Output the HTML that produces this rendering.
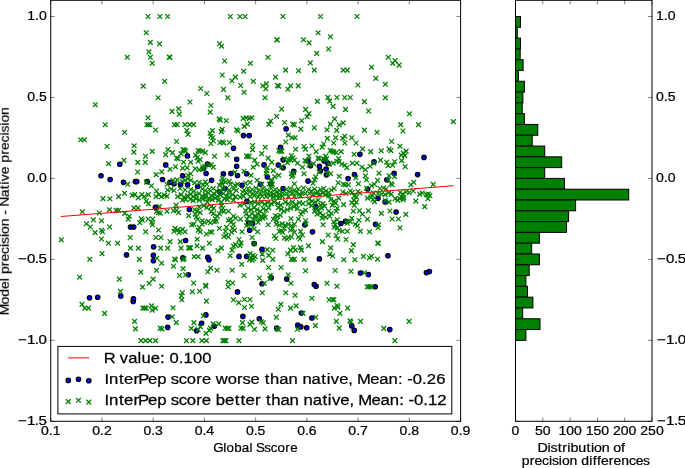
<!DOCTYPE html>
<html lang="en"><head><meta charset="utf-8"><title>Precision difference vs Global Sscore</title>
<style>html,body{margin:0;padding:0;background:#fff;}body{width:685px;height:468px;overflow:hidden;font-family:"Liberation Sans",sans-serif;}svg{display:block;}</style>
</head><body>
<svg width="685" height="468" viewBox="0 0 685 468" font-family="'Liberation Sans', sans-serif" fill="#000">
<rect x="0" y="0" width="685" height="468" fill="#fff"/>
<defs><filter id="gs" x="0" y="0" width="685" height="468" filterUnits="userSpaceOnUse" color-interpolation-filters="sRGB"><feColorMatrix type="saturate" values="0"/></filter></defs>
<g id="blue" fill="#0000ff" stroke="#000" stroke-width="1.25">
<circle cx="205.9" cy="314.9" r="2.2"/><circle cx="301.4" cy="313.1" r="2.2"/><circle cx="311.9" cy="318.0" r="2.2"/><circle cx="201.6" cy="323.2" r="2.2"/><circle cx="297.8" cy="325.1" r="2.2"/><circle cx="207.8" cy="257.4" r="2.2"/><circle cx="207.5" cy="164.0" r="2.2"/><circle cx="214.3" cy="326.3" r="2.2"/><circle cx="264.0" cy="164.9" r="2.2"/><circle cx="300.8" cy="326.9" r="2.2"/><circle cx="278.3" cy="165.0" r="2.2"/><circle cx="306.7" cy="327.7" r="2.2"/><circle cx="209.0" cy="259.7" r="2.2"/><circle cx="126.5" cy="254.9" r="2.2"/><circle cx="327.9" cy="163.4" r="2.2"/><circle cx="189.4" cy="209.5" r="2.2"/><circle cx="396.1" cy="212.0" r="2.2"/><circle cx="119.8" cy="164.2" r="2.2"/><circle cx="283.1" cy="159.8" r="2.2"/><circle cx="276.8" cy="328.1" r="2.2"/><circle cx="389.8" cy="329.6" r="2.2"/><circle cx="283.1" cy="167.7" r="2.2"/><circle cx="133.2" cy="301.4" r="2.2"/><circle cx="203.6" cy="168.2" r="2.2"/><circle cx="196.6" cy="330.7" r="2.2"/><circle cx="326.1" cy="169.0" r="2.2"/><circle cx="133.5" cy="298.8" r="2.2"/><circle cx="424.0" cy="157.4" r="2.2"/><circle cx="324.1" cy="160.9" r="2.2"/><circle cx="89.5" cy="297.7" r="2.2"/><circle cx="97.7" cy="297.3" r="2.2"/><circle cx="187.4" cy="155.9" r="2.2"/><circle cx="153.4" cy="255.4" r="2.2"/><circle cx="153.4" cy="260.7" r="2.2"/><circle cx="262.0" cy="249.4" r="2.2"/><circle cx="120.8" cy="296.1" r="2.2"/><circle cx="359.9" cy="154.3" r="2.2"/><circle cx="168.0" cy="317.1" r="2.2"/><circle cx="182.8" cy="257.9" r="2.2"/><circle cx="394.1" cy="173.2" r="2.2"/><circle cx="167.7" cy="327.4" r="2.2"/><circle cx="155.4" cy="207.4" r="2.2"/><circle cx="206.1" cy="173.5" r="2.2"/><circle cx="320.4" cy="170.9" r="2.2"/><circle cx="293.7" cy="171.4" r="2.2"/><circle cx="223.4" cy="173.7" r="2.2"/><circle cx="153.6" cy="246.8" r="2.2"/><circle cx="345.6" cy="221.2" r="2.2"/><circle cx="354.5" cy="174.6" r="2.2"/><circle cx="417.6" cy="174.6" r="2.2"/><circle cx="319.4" cy="166.4" r="2.2"/><circle cx="319.4" cy="258.9" r="2.2"/><circle cx="326.4" cy="174.8" r="2.2"/><circle cx="242.9" cy="316.4" r="2.2"/><circle cx="387.9" cy="255.7" r="2.2"/><circle cx="182.6" cy="175.8" r="2.2"/><circle cx="237.5" cy="291.9" r="2.2"/><circle cx="248.6" cy="222.8" r="2.2"/><circle cx="252.6" cy="223.5" r="2.2"/><circle cx="340.9" cy="223.5" r="2.2"/><circle cx="286.1" cy="128.9" r="2.2"/><circle cx="267.4" cy="177.0" r="2.2"/><circle cx="254.1" cy="243.6" r="2.2"/><circle cx="429.4" cy="271.6" r="2.2"/><circle cx="385.1" cy="201.9" r="2.2"/><circle cx="246.9" cy="201.4" r="2.2"/><circle cx="315.9" cy="206.9" r="2.2"/><circle cx="246.6" cy="173.7" r="2.2"/><circle cx="246.6" cy="256.4" r="2.2"/><circle cx="426.4" cy="272.6" r="2.2"/><circle cx="348.1" cy="178.6" r="2.2"/><circle cx="360.4" cy="273.0" r="2.2"/><circle cx="110.1" cy="179.6" r="2.2"/><circle cx="280.5" cy="147.3" r="2.2"/><circle cx="386.8" cy="179.8" r="2.2"/><circle cx="230.9" cy="173.5" r="2.2"/><circle cx="130.5" cy="227.0" r="2.2"/><circle cx="133.7" cy="227.0" r="2.2"/><circle cx="211.6" cy="180.3" r="2.2"/><circle cx="162.5" cy="179.5" r="2.2"/><circle cx="185.6" cy="240.5" r="2.2"/><circle cx="368.4" cy="274.6" r="2.2"/><circle cx="351.8" cy="325.9" r="2.2"/><circle cx="188.3" cy="274.8" r="2.2"/><circle cx="375.2" cy="286.8" r="2.2"/><circle cx="135.3" cy="181.6" r="2.2"/><circle cx="136.8" cy="181.6" r="2.2"/><circle cx="147.3" cy="181.6" r="2.2"/><circle cx="316.1" cy="286.3" r="2.2"/><circle cx="219.7" cy="192.0" r="2.2"/><circle cx="123.5" cy="182.3" r="2.2"/><circle cx="233.5" cy="148.3" r="2.2"/><circle cx="354.2" cy="330.4" r="2.2"/><circle cx="249.6" cy="230.3" r="2.2"/><circle cx="310.5" cy="165.7" r="2.2"/><circle cx="314.3" cy="284.5" r="2.2"/><circle cx="243.5" cy="135.6" r="2.2"/><circle cx="249.2" cy="135.6" r="2.2"/><circle cx="165.7" cy="164.9" r="2.2"/><circle cx="174.0" cy="183.8" r="2.2"/><circle cx="270.7" cy="183.8" r="2.2"/><circle cx="271.2" cy="277.8" r="2.2"/><circle cx="262.0" cy="283.8" r="2.2"/><circle cx="260.4" cy="184.3" r="2.2"/><circle cx="180.6" cy="184.5" r="2.2"/><circle cx="259.3" cy="318.8" r="2.2"/><circle cx="304.8" cy="224.8" r="2.2"/><circle cx="187.6" cy="184.8" r="2.2"/><circle cx="312.5" cy="231.8" r="2.2"/><circle cx="374.0" cy="161.9" r="2.2"/><circle cx="367.7" cy="189.0" r="2.2"/><circle cx="378.0" cy="198.3" r="2.2"/><circle cx="286.7" cy="279.1" r="2.2"/><circle cx="242.0" cy="185.3" r="2.2"/><circle cx="225.1" cy="188.5" r="2.2"/><circle cx="283.1" cy="188.5" r="2.2"/><circle cx="236.7" cy="159.3" r="2.2"/><circle cx="236.7" cy="166.2" r="2.2"/><circle cx="308.0" cy="160.9" r="2.2"/><circle cx="308.0" cy="181.1" r="2.2"/><circle cx="101.0" cy="175.7" r="2.2"/><circle cx="170.0" cy="182.3" r="2.2"/><circle cx="239.0" cy="256.4" r="2.2"/><circle cx="237.5" cy="175.5" r="2.2"/><circle cx="375.5" cy="224.3" r="2.2"/><circle cx="197.7" cy="186.5" r="2.2"/>
</g>
<g id="green" stroke="#008000" stroke-width="1.25" fill="none">
<path d="M92.95 102.35l4.7 4.7m-4.7 0l4.7 -4.7"/><path d="M208.55 103.15l4.7 4.7m-4.7 0l4.7 -4.7"/><path d="M201.05 313.45l4.7 4.7m-4.7 0l4.7 -4.7"/><path d="M102.25 311.05l4.7 4.7m-4.7 0l4.7 -4.7"/><path d="M300.55 311.05l4.7 4.7m-4.7 0l4.7 -4.7"/><path d="M315.75 30.45l4.7 4.7m-4.7 0l4.7 -4.7"/><path d="M313.35 314.95l4.7 4.7m-4.7 0l4.7 -4.7"/><path d="M187.65 99.65l4.7 4.7m-4.7 0l4.7 -4.7"/><path d="M314.95 99.05l4.7 4.7m-4.7 0l4.7 -4.7"/><path d="M303.25 107.05l4.7 4.7m-4.7 0l4.7 -4.7"/><path d="M301.15 37.45l4.7 4.7m-4.7 0l4.7 -4.7"/><path d="M327.35 98.75l4.7 4.7m-4.7 0l4.7 -4.7"/><path d="M406.75 319.05l4.7 4.7m-4.7 0l4.7 -4.7"/><path d="M328.05 34.45l4.7 4.7m-4.7 0l4.7 -4.7"/><path d="M82.55 305.75l4.7 4.7m-4.7 0l4.7 -4.7"/><path d="M86.25 305.75l4.7 4.7m-4.7 0l4.7 -4.7"/><path d="M288.25 305.75l4.7 4.7m-4.7 0l4.7 -4.7"/><path d="M207.75 109.75l4.7 4.7m-4.7 0l4.7 -4.7"/><path d="M225.35 95.35l4.7 4.7m-4.7 0l4.7 -4.7"/><path d="M191.55 320.25l4.7 4.7m-4.7 0l4.7 -4.7"/><path d="M325.55 95.05l4.7 4.7m-4.7 0l4.7 -4.7"/><path d="M306.75 40.55l4.7 4.7m-4.7 0l4.7 -4.7"/><path d="M306.55 111.25l4.7 4.7m-4.7 0l4.7 -4.7"/><path d="M382.95 95.35l4.7 4.7m-4.7 0l4.7 -4.7"/><path d="M407.05 111.45l4.7 4.7m-4.7 0l4.7 -4.7"/><path d="M217.15 41.45l4.7 4.7m-4.7 0l4.7 -4.7"/><path d="M210.75 321.55l4.7 4.7m-4.7 0l4.7 -4.7"/><path d="M216.35 321.55l4.7 4.7m-4.7 0l4.7 -4.7"/><path d="M176.95 111.75l4.7 4.7m-4.7 0l4.7 -4.7"/><path d="M330.75 104.05l4.7 4.7m-4.7 0l4.7 -4.7"/><path d="M293.75 303.55l4.7 4.7m-4.7 0l4.7 -4.7"/><path d="M176.35 106.45l4.7 4.7m-4.7 0l4.7 -4.7"/><path d="M279.25 106.85l4.7 4.7m-4.7 0l4.7 -4.7"/><path d="M331.85 305.75l4.7 4.7m-4.7 0l4.7 -4.7"/><path d="M313.05 323.25l4.7 4.7m-4.7 0l4.7 -4.7"/><path d="M79.65 302.05l4.7 4.7m-4.7 0l4.7 -4.7"/><path d="M278.45 302.05l4.7 4.7m-4.7 0l4.7 -4.7"/><path d="M330.85 160.85l4.7 4.7m-4.7 0l4.7 -4.7"/><path d="M349.95 160.85l4.7 4.7m-4.7 0l4.7 -4.7"/><path d="M263.85 207.85l4.7 4.7m-4.7 0l4.7 -4.7"/><path d="M219.25 43.85l4.7 4.7m-4.7 0l4.7 -4.7"/><path d="M339.45 161.85l4.7 4.7m-4.7 0l4.7 -4.7"/><path d="M194.85 208.85l4.7 4.7m-4.7 0l4.7 -4.7"/><path d="M281.45 208.85l4.7 4.7m-4.7 0l4.7 -4.7"/><path d="M333.85 208.85l4.7 4.7m-4.7 0l4.7 -4.7"/><path d="M192.35 207.35l4.7 4.7m-4.7 0l4.7 -4.7"/><path d="M350.95 208.85l4.7 4.7m-4.7 0l4.7 -4.7"/><path d="M191.85 254.35l4.7 4.7m-4.7 0l4.7 -4.7"/><path d="M195.85 254.35l4.7 4.7m-4.7 0l4.7 -4.7"/><path d="M204.45 91.15l4.7 4.7m-4.7 0l4.7 -4.7"/><path d="M304.75 114.25l4.7 4.7m-4.7 0l4.7 -4.7"/><path d="M198.05 324.25l4.7 4.7m-4.7 0l4.7 -4.7"/><path d="M135.45 160.05l4.7 4.7m-4.7 0l4.7 -4.7"/><path d="M142.95 160.05l4.7 4.7m-4.7 0l4.7 -4.7"/><path d="M208.95 162.35l4.7 4.7m-4.7 0l4.7 -4.7"/><path d="M208.95 209.35l4.7 4.7m-4.7 0l4.7 -4.7"/><path d="M173.95 320.25l4.7 4.7m-4.7 0l4.7 -4.7"/><path d="M326.85 161.95l4.7 4.7m-4.7 0l4.7 -4.7"/><path d="M257.85 208.85l4.7 4.7m-4.7 0l4.7 -4.7"/><path d="M269.35 159.85l4.7 4.7m-4.7 0l4.7 -4.7"/><path d="M278.95 206.85l4.7 4.7m-4.7 0l4.7 -4.7"/><path d="M206.45 162.55l4.7 4.7m-4.7 0l4.7 -4.7"/><path d="M330.35 253.65l4.7 4.7m-4.7 0l4.7 -4.7"/><path d="M342.45 162.85l4.7 4.7m-4.7 0l4.7 -4.7"/><path d="M188.35 159.85l4.7 4.7m-4.7 0l4.7 -4.7"/><path d="M336.85 159.35l4.7 4.7m-4.7 0l4.7 -4.7"/><path d="M260.85 206.35l4.7 4.7m-4.7 0l4.7 -4.7"/><path d="M326.35 208.85l4.7 4.7m-4.7 0l4.7 -4.7"/><path d="M136.95 257.05l4.7 4.7m-4.7 0l4.7 -4.7"/><path d="M270.45 257.05l4.7 4.7m-4.7 0l4.7 -4.7"/><path d="M92.75 230.25l4.7 4.7m-4.7 0l4.7 -4.7"/><path d="M334.05 319.05l4.7 4.7m-4.7 0l4.7 -4.7"/><path d="M266.35 253.05l4.7 4.7m-4.7 0l4.7 -4.7"/><path d="M341.45 257.35l4.7 4.7m-4.7 0l4.7 -4.7"/><path d="M197.85 210.35l4.7 4.7m-4.7 0l4.7 -4.7"/><path d="M275.95 306.95l4.7 4.7m-4.7 0l4.7 -4.7"/><path d="M195.85 158.85l4.7 4.7m-4.7 0l4.7 -4.7"/><path d="M334.35 158.85l4.7 4.7m-4.7 0l4.7 -4.7"/><path d="M211.45 205.85l4.7 4.7m-4.7 0l4.7 -4.7"/><path d="M334.85 205.85l4.7 4.7m-4.7 0l4.7 -4.7"/><path d="M352.45 257.35l4.7 4.7m-4.7 0l4.7 -4.7"/><path d="M334.55 95.15l4.7 4.7m-4.7 0l4.7 -4.7"/><path d="M222.85 325.75l4.7 4.7m-4.7 0l4.7 -4.7"/><path d="M131.65 205.55l4.7 4.7m-4.7 0l4.7 -4.7"/><path d="M135.65 205.55l4.7 4.7m-4.7 0l4.7 -4.7"/><path d="M202.45 163.85l4.7 4.7m-4.7 0l4.7 -4.7"/><path d="M328.85 210.85l4.7 4.7m-4.7 0l4.7 -4.7"/><path d="M334.85 303.25l4.7 4.7m-4.7 0l4.7 -4.7"/><path d="M399.35 158.25l4.7 4.7m-4.7 0l4.7 -4.7"/><path d="M204.45 205.25l4.7 4.7m-4.7 0l4.7 -4.7"/><path d="M266.35 205.25l4.7 4.7m-4.7 0l4.7 -4.7"/><path d="M275.95 205.25l4.7 4.7m-4.7 0l4.7 -4.7"/><path d="M260.35 258.05l4.7 4.7m-4.7 0l4.7 -4.7"/><path d="M122.35 211.05l4.7 4.7m-4.7 0l4.7 -4.7"/><path d="M188.95 326.05l4.7 4.7m-4.7 0l4.7 -4.7"/><path d="M208.25 326.05l4.7 4.7m-4.7 0l4.7 -4.7"/><path d="M225.05 326.05l4.7 4.7m-4.7 0l4.7 -4.7"/><path d="M226.55 326.05l4.7 4.7m-4.7 0l4.7 -4.7"/><path d="M381.45 326.05l4.7 4.7m-4.7 0l4.7 -4.7"/><path d="M121.65 158.05l4.7 4.7m-4.7 0l4.7 -4.7"/><path d="M402.85 164.35l4.7 4.7m-4.7 0l4.7 -4.7"/><path d="M210.95 211.35l4.7 4.7m-4.7 0l4.7 -4.7"/><path d="M274.85 37.65l4.7 4.7m-4.7 0l4.7 -4.7"/><path d="M196.85 204.75l4.7 4.7m-4.7 0l4.7 -4.7"/><path d="M259.85 251.75l4.7 4.7m-4.7 0l4.7 -4.7"/><path d="M327.35 251.75l4.7 4.7m-4.7 0l4.7 -4.7"/><path d="M216.85 116.55l4.7 4.7m-4.7 0l4.7 -4.7"/><path d="M332.25 116.55l4.7 4.7m-4.7 0l4.7 -4.7"/><path d="M279.45 164.55l4.7 4.7m-4.7 0l4.7 -4.7"/><path d="M204.05 298.75l4.7 4.7m-4.7 0l4.7 -4.7"/><path d="M335.55 304.75l4.7 4.7m-4.7 0l4.7 -4.7"/><path d="M274.75 326.55l4.7 4.7m-4.7 0l4.7 -4.7"/><path d="M326.25 46.65l4.7 4.7m-4.7 0l4.7 -4.7"/><path d="M274.55 37.45l4.7 4.7m-4.7 0l4.7 -4.7"/><path d="M200.35 164.85l4.7 4.7m-4.7 0l4.7 -4.7"/><path d="M210.95 164.85l4.7 4.7m-4.7 0l4.7 -4.7"/><path d="M192.85 211.85l4.7 4.7m-4.7 0l4.7 -4.7"/><path d="M255.75 211.85l4.7 4.7m-4.7 0l4.7 -4.7"/><path d="M87.45 256.95l4.7 4.7m-4.7 0l4.7 -4.7"/><path d="M295.05 326.95l4.7 4.7m-4.7 0l4.7 -4.7"/><path d="M197.85 157.25l4.7 4.7m-4.7 0l4.7 -4.7"/><path d="M285.05 160.35l4.7 4.7m-4.7 0l4.7 -4.7"/><path d="M208.95 204.25l4.7 4.7m-4.7 0l4.7 -4.7"/><path d="M285.05 207.35l4.7 4.7m-4.7 0l4.7 -4.7"/><path d="M422.35 204.25l4.7 4.7m-4.7 0l4.7 -4.7"/><path d="M403.55 212.05l4.7 4.7m-4.7 0l4.7 -4.7"/><path d="M274.25 113.95l4.7 4.7m-4.7 0l4.7 -4.7"/><path d="M195.75 327.25l4.7 4.7m-4.7 0l4.7 -4.7"/><path d="M276.25 327.25l4.7 4.7m-4.7 0l4.7 -4.7"/><path d="M273.95 314.95l4.7 4.7m-4.7 0l4.7 -4.7"/><path d="M264.85 165.35l4.7 4.7m-4.7 0l4.7 -4.7"/><path d="M344.45 165.35l4.7 4.7m-4.7 0l4.7 -4.7"/><path d="M261.85 212.35l4.7 4.7m-4.7 0l4.7 -4.7"/><path d="M254.75 161.85l4.7 4.7m-4.7 0l4.7 -4.7"/><path d="M354.55 160.85l4.7 4.7m-4.7 0l4.7 -4.7"/><path d="M254.75 207.35l4.7 4.7m-4.7 0l4.7 -4.7"/><path d="M285.55 251.55l4.7 4.7m-4.7 0l4.7 -4.7"/><path d="M170.65 305.45l4.7 4.7m-4.7 0l4.7 -4.7"/><path d="M217.85 117.75l4.7 4.7m-4.7 0l4.7 -4.7"/><path d="M336.85 325.75l4.7 4.7m-4.7 0l4.7 -4.7"/><path d="M179.55 297.45l4.7 4.7m-4.7 0l4.7 -4.7"/><path d="M231.05 297.45l4.7 4.7m-4.7 0l4.7 -4.7"/><path d="M326.85 297.45l4.7 4.7m-4.7 0l4.7 -4.7"/><path d="M331.55 297.45l4.7 4.7m-4.7 0l4.7 -4.7"/><path d="M277.95 212.85l4.7 4.7m-4.7 0l4.7 -4.7"/><path d="M281.85 156.35l4.7 4.7m-4.7 0l4.7 -4.7"/><path d="M286.05 157.75l4.7 4.7m-4.7 0l4.7 -4.7"/><path d="M392.25 159.35l4.7 4.7m-4.7 0l4.7 -4.7"/><path d="M217.05 211.35l4.7 4.7m-4.7 0l4.7 -4.7"/><path d="M116.25 208.05l4.7 4.7m-4.7 0l4.7 -4.7"/><path d="M324.25 156.25l4.7 4.7m-4.7 0l4.7 -4.7"/><path d="M336.35 156.25l4.7 4.7m-4.7 0l4.7 -4.7"/><path d="M201.45 203.25l4.7 4.7m-4.7 0l4.7 -4.7"/><path d="M207.05 328.05l4.7 4.7m-4.7 0l4.7 -4.7"/><path d="M330.05 297.15l4.7 4.7m-4.7 0l4.7 -4.7"/><path d="M221.15 87.05l4.7 4.7m-4.7 0l4.7 -4.7"/><path d="M299.25 118.35l4.7 4.7m-4.7 0l4.7 -4.7"/><path d="M192.85 166.35l4.7 4.7m-4.7 0l4.7 -4.7"/><path d="M186.25 213.35l4.7 4.7m-4.7 0l4.7 -4.7"/><path d="M272.95 213.35l4.7 4.7m-4.7 0l4.7 -4.7"/><path d="M285.55 86.85l4.7 4.7m-4.7 0l4.7 -4.7"/><path d="M169.85 314.45l4.7 4.7m-4.7 0l4.7 -4.7"/><path d="M223.85 118.45l4.7 4.7m-4.7 0l4.7 -4.7"/><path d="M184.75 165.35l4.7 4.7m-4.7 0l4.7 -4.7"/><path d="M265.85 155.75l4.7 4.7m-4.7 0l4.7 -4.7"/><path d="M278.45 202.75l4.7 4.7m-4.7 0l4.7 -4.7"/><path d="M329.85 202.75l4.7 4.7m-4.7 0l4.7 -4.7"/><path d="M351.95 202.75l4.7 4.7m-4.7 0l4.7 -4.7"/><path d="M169.75 109.05l4.7 4.7m-4.7 0l4.7 -4.7"/><path d="M337.55 311.05l4.7 4.7m-4.7 0l4.7 -4.7"/><path d="M199.95 166.85l4.7 4.7m-4.7 0l4.7 -4.7"/><path d="M126.85 213.85l4.7 4.7m-4.7 0l4.7 -4.7"/><path d="M215.05 213.85l4.7 4.7m-4.7 0l4.7 -4.7"/><path d="M258.85 213.85l4.7 4.7m-4.7 0l4.7 -4.7"/><path d="M327.35 213.85l4.7 4.7m-4.7 0l4.7 -4.7"/><path d="M194.85 155.25l4.7 4.7m-4.7 0l4.7 -4.7"/><path d="M322.25 203.75l4.7 4.7m-4.7 0l4.7 -4.7"/><path d="M341.25 202.25l4.7 4.7m-4.7 0l4.7 -4.7"/><path d="M198.35 86.15l4.7 4.7m-4.7 0l4.7 -4.7"/><path d="M132.15 319.05l4.7 4.7m-4.7 0l4.7 -4.7"/><path d="M322.05 157.05l4.7 4.7m-4.7 0l4.7 -4.7"/><path d="M309.55 295.95l4.7 4.7m-4.7 0l4.7 -4.7"/><path d="M196.85 167.35l4.7 4.7m-4.7 0l4.7 -4.7"/><path d="M275.45 214.35l4.7 4.7m-4.7 0l4.7 -4.7"/><path d="M262.35 201.75l4.7 4.7m-4.7 0l4.7 -4.7"/><path d="M252.75 213.35l4.7 4.7m-4.7 0l4.7 -4.7"/><path d="M252.75 254.35l4.7 4.7m-4.7 0l4.7 -4.7"/><path d="M193.85 214.85l4.7 4.7m-4.7 0l4.7 -4.7"/><path d="M262.85 214.85l4.7 4.7m-4.7 0l4.7 -4.7"/><path d="M323.25 214.85l4.7 4.7m-4.7 0l4.7 -4.7"/><path d="M288.05 157.25l4.7 4.7m-4.7 0l4.7 -4.7"/><path d="M390.25 162.85l4.7 4.7m-4.7 0l4.7 -4.7"/><path d="M219.05 203.25l4.7 4.7m-4.7 0l4.7 -4.7"/><path d="M219.05 207.85l4.7 4.7m-4.7 0l4.7 -4.7"/><path d="M288.05 205.85l4.7 4.7m-4.7 0l4.7 -4.7"/><path d="M357.05 208.35l4.7 4.7m-4.7 0l4.7 -4.7"/><path d="M252.25 157.75l4.7 4.7m-4.7 0l4.7 -4.7"/><path d="M146.05 201.25l4.7 4.7m-4.7 0l4.7 -4.7"/><path d="M255.75 201.25l4.7 4.7m-4.7 0l4.7 -4.7"/><path d="M268.85 201.25l4.7 4.7m-4.7 0l4.7 -4.7"/><path d="M275.45 201.25l4.7 4.7m-4.7 0l4.7 -4.7"/><path d="M286.05 201.25l4.7 4.7m-4.7 0l4.7 -4.7"/><path d="M215.55 248.25l4.7 4.7m-4.7 0l4.7 -4.7"/><path d="M348.95 248.25l4.7 4.7m-4.7 0l4.7 -4.7"/><path d="M133.05 326.55l4.7 4.7m-4.7 0l4.7 -4.7"/><path d="M282.25 120.15l4.7 4.7m-4.7 0l4.7 -4.7"/><path d="M143.15 153.95l4.7 4.7m-4.7 0l4.7 -4.7"/><path d="M212.15 153.95l4.7 4.7m-4.7 0l4.7 -4.7"/><path d="M270.45 247.95l4.7 4.7m-4.7 0l4.7 -4.7"/><path d="M236.35 300.25l4.7 4.7m-4.7 0l4.7 -4.7"/><path d="M264.35 168.35l4.7 4.7m-4.7 0l4.7 -4.7"/><path d="M270.95 168.35l4.7 4.7m-4.7 0l4.7 -4.7"/><path d="M323.25 153.75l4.7 4.7m-4.7 0l4.7 -4.7"/><path d="M113.75 208.05l4.7 4.7m-4.7 0l4.7 -4.7"/><path d="M251.75 205.25l4.7 4.7m-4.7 0l4.7 -4.7"/><path d="M333.35 200.75l4.7 4.7m-4.7 0l4.7 -4.7"/><path d="M288.05 247.75l4.7 4.7m-4.7 0l4.7 -4.7"/><path d="M320.75 201.25l4.7 4.7m-4.7 0l4.7 -4.7"/><path d="M320.75 212.85l4.7 4.7m-4.7 0l4.7 -4.7"/><path d="M87.95 224.65l4.7 4.7m-4.7 0l4.7 -4.7"/><path d="M253.75 215.85l4.7 4.7m-4.7 0l4.7 -4.7"/><path d="M260.35 215.85l4.7 4.7m-4.7 0l4.7 -4.7"/><path d="M349.45 215.85l4.7 4.7m-4.7 0l4.7 -4.7"/><path d="M203.75 331.05l4.7 4.7m-4.7 0l4.7 -4.7"/><path d="M314.35 51.05l4.7 4.7m-4.7 0l4.7 -4.7"/><path d="M289.05 153.25l4.7 4.7m-4.7 0l4.7 -4.7"/><path d="M402.35 153.25l4.7 4.7m-4.7 0l4.7 -4.7"/><path d="M265.35 200.25l4.7 4.7m-4.7 0l4.7 -4.7"/><path d="M349.45 200.25l4.7 4.7m-4.7 0l4.7 -4.7"/><path d="M264.85 247.25l4.7 4.7m-4.7 0l4.7 -4.7"/><path d="M251.25 256.35l4.7 4.7m-4.7 0l4.7 -4.7"/><path d="M289.05 256.85l4.7 4.7m-4.7 0l4.7 -4.7"/><path d="M227.95 14.15l4.7 4.7m-4.7 0l4.7 -4.7"/><path d="M280.55 14.15l4.7 4.7m-4.7 0l4.7 -4.7"/><path d="M318.15 14.15l4.7 4.7m-4.7 0l4.7 -4.7"/><path d="M138.95 216.35l4.7 4.7m-4.7 0l4.7 -4.7"/><path d="M212.95 216.35l4.7 4.7m-4.7 0l4.7 -4.7"/><path d="M288.55 216.35l4.7 4.7m-4.7 0l4.7 -4.7"/><path d="M193.35 152.75l4.7 4.7m-4.7 0l4.7 -4.7"/><path d="M250.75 164.85l4.7 4.7m-4.7 0l4.7 -4.7"/><path d="M398.85 152.75l4.7 4.7m-4.7 0l4.7 -4.7"/><path d="M204.95 199.75l4.7 4.7m-4.7 0l4.7 -4.7"/><path d="M219.05 199.75l4.7 4.7m-4.7 0l4.7 -4.7"/><path d="M220.55 205.85l4.7 4.7m-4.7 0l4.7 -4.7"/><path d="M252.25 199.75l4.7 4.7m-4.7 0l4.7 -4.7"/><path d="M259.35 199.75l4.7 4.7m-4.7 0l4.7 -4.7"/><path d="M271.95 199.75l4.7 4.7m-4.7 0l4.7 -4.7"/><path d="M282.95 199.75l4.7 4.7m-4.7 0l4.7 -4.7"/><path d="M319.75 215.85l4.7 4.7m-4.7 0l4.7 -4.7"/><path d="M354.05 199.75l4.7 4.7m-4.7 0l4.7 -4.7"/><path d="M181.75 256.45l4.7 4.7m-4.7 0l4.7 -4.7"/><path d="M250.75 252.85l4.7 4.7m-4.7 0l4.7 -4.7"/><path d="M237.55 14.15l4.7 4.7m-4.7 0l4.7 -4.7"/><path d="M276.25 83.75l4.7 4.7m-4.7 0l4.7 -4.7"/><path d="M135.25 169.65l4.7 4.7m-4.7 0l4.7 -4.7"/><path d="M145.75 216.65l4.7 4.7m-4.7 0l4.7 -4.7"/><path d="M150.35 216.65l4.7 4.7m-4.7 0l4.7 -4.7"/><path d="M389.75 216.65l4.7 4.7m-4.7 0l4.7 -4.7"/><path d="M396.05 216.65l4.7 4.7m-4.7 0l4.7 -4.7"/><path d="M295.95 83.55l4.7 4.7m-4.7 0l4.7 -4.7"/><path d="M290.45 121.75l4.7 4.7m-4.7 0l4.7 -4.7"/><path d="M328.05 121.75l4.7 4.7m-4.7 0l4.7 -4.7"/><path d="M340.85 120.55l4.7 4.7m-4.7 0l4.7 -4.7"/><path d="M178.95 293.45l4.7 4.7m-4.7 0l4.7 -4.7"/><path d="M288.25 83.45l4.7 4.7m-4.7 0l4.7 -4.7"/><path d="M125.85 216.85l4.7 4.7m-4.7 0l4.7 -4.7"/><path d="M195.35 216.85l4.7 4.7m-4.7 0l4.7 -4.7"/><path d="M250.75 216.85l4.7 4.7m-4.7 0l4.7 -4.7"/><path d="M257.35 216.85l4.7 4.7m-4.7 0l4.7 -4.7"/><path d="M270.95 216.85l4.7 4.7m-4.7 0l4.7 -4.7"/><path d="M290.05 199.75l4.7 4.7m-4.7 0l4.7 -4.7"/><path d="M319.25 205.85l4.7 4.7m-4.7 0l4.7 -4.7"/><path d="M181.25 159.85l4.7 4.7m-4.7 0l4.7 -4.7"/><path d="M275.15 83.15l4.7 4.7m-4.7 0l4.7 -4.7"/><path d="M172.15 122.25l4.7 4.7m-4.7 0l4.7 -4.7"/><path d="M174.75 122.25l4.7 4.7m-4.7 0l4.7 -4.7"/><path d="M182.65 122.25l4.7 4.7m-4.7 0l4.7 -4.7"/><path d="M187.45 122.25l4.7 4.7m-4.7 0l4.7 -4.7"/><path d="M191.25 122.25l4.7 4.7m-4.7 0l4.7 -4.7"/><path d="M398.35 122.25l4.7 4.7m-4.7 0l4.7 -4.7"/><path d="M416.15 122.25l4.7 4.7m-4.7 0l4.7 -4.7"/><path d="M238.35 83.15l4.7 4.7m-4.7 0l4.7 -4.7"/><path d="M292.75 292.95l4.7 4.7m-4.7 0l4.7 -4.7"/><path d="M351.75 151.95l4.7 4.7m-4.7 0l4.7 -4.7"/><path d="M102.85 122.35l4.7 4.7m-4.7 0l4.7 -4.7"/><path d="M334.85 217.35l4.7 4.7m-4.7 0l4.7 -4.7"/><path d="M291.95 122.55l4.7 4.7m-4.7 0l4.7 -4.7"/><path d="M336.85 122.55l4.7 4.7m-4.7 0l4.7 -4.7"/><path d="M143.95 198.75l4.7 4.7m-4.7 0l4.7 -4.7"/><path d="M221.55 209.35l4.7 4.7m-4.7 0l4.7 -4.7"/><path d="M249.75 211.35l4.7 4.7m-4.7 0l4.7 -4.7"/><path d="M331.85 198.75l4.7 4.7m-4.7 0l4.7 -4.7"/><path d="M413.45 198.75l4.7 4.7m-4.7 0l4.7 -4.7"/><path d="M128.15 245.75l4.7 4.7m-4.7 0l4.7 -4.7"/><path d="M135.95 245.75l4.7 4.7m-4.7 0l4.7 -4.7"/><path d="M200.35 245.75l4.7 4.7m-4.7 0l4.7 -4.7"/><path d="M219.05 245.75l4.7 4.7m-4.7 0l4.7 -4.7"/><path d="M180.75 257.35l4.7 4.7m-4.7 0l4.7 -4.7"/><path d="M249.75 257.85l4.7 4.7m-4.7 0l4.7 -4.7"/><path d="M290.55 155.75l4.7 4.7m-4.7 0l4.7 -4.7"/><path d="M359.55 164.85l4.7 4.7m-4.7 0l4.7 -4.7"/><path d="M290.55 257.35l4.7 4.7m-4.7 0l4.7 -4.7"/><path d="M238.65 325.75l4.7 4.7m-4.7 0l4.7 -4.7"/><path d="M387.55 208.65l4.7 4.7m-4.7 0l4.7 -4.7"/><path d="M186.25 245.55l4.7 4.7m-4.7 0l4.7 -4.7"/><path d="M187.25 245.55l4.7 4.7m-4.7 0l4.7 -4.7"/><path d="M188.35 245.55l4.7 4.7m-4.7 0l4.7 -4.7"/><path d="M328.35 245.55l4.7 4.7m-4.7 0l4.7 -4.7"/><path d="M263.85 170.85l4.7 4.7m-4.7 0l4.7 -4.7"/><path d="M139.95 217.85l4.7 4.7m-4.7 0l4.7 -4.7"/><path d="M356.55 217.85l4.7 4.7m-4.7 0l4.7 -4.7"/><path d="M180.25 165.85l4.7 4.7m-4.7 0l4.7 -4.7"/><path d="M259.35 151.25l4.7 4.7m-4.7 0l4.7 -4.7"/><path d="M190.85 198.25l4.7 4.7m-4.7 0l4.7 -4.7"/><path d="M318.25 202.75l4.7 4.7m-4.7 0l4.7 -4.7"/><path d="M360.05 211.85l4.7 4.7m-4.7 0l4.7 -4.7"/><path d="M291.05 245.25l4.7 4.7m-4.7 0l4.7 -4.7"/><path d="M268.25 118.75l4.7 4.7m-4.7 0l4.7 -4.7"/><path d="M165.25 14.15l4.7 4.7m-4.7 0l4.7 -4.7"/><path d="M266.15 265.15l4.7 4.7m-4.7 0l4.7 -4.7"/><path d="M278.75 265.15l4.7 4.7m-4.7 0l4.7 -4.7"/><path d="M325.15 171.25l4.7 4.7m-4.7 0l4.7 -4.7"/><path d="M291.35 170.45l4.7 4.7m-4.7 0l4.7 -4.7"/><path d="M382.95 81.95l4.7 4.7m-4.7 0l4.7 -4.7"/><path d="M342.35 95.15l4.7 4.7m-4.7 0l4.7 -4.7"/><path d="M188.35 171.35l4.7 4.7m-4.7 0l4.7 -4.7"/><path d="M289.05 171.35l4.7 4.7m-4.7 0l4.7 -4.7"/><path d="M328.35 171.35l4.7 4.7m-4.7 0l4.7 -4.7"/><path d="M199.85 218.35l4.7 4.7m-4.7 0l4.7 -4.7"/><path d="M274.45 218.35l4.7 4.7m-4.7 0l4.7 -4.7"/><path d="M400.85 150.75l4.7 4.7m-4.7 0l4.7 -4.7"/><path d="M180.25 197.75l4.7 4.7m-4.7 0l4.7 -4.7"/><path d="M196.85 197.75l4.7 4.7m-4.7 0l4.7 -4.7"/><path d="M216.05 197.75l4.7 4.7m-4.7 0l4.7 -4.7"/><path d="M248.75 200.75l4.7 4.7m-4.7 0l4.7 -4.7"/><path d="M248.75 207.35l4.7 4.7m-4.7 0l4.7 -4.7"/><path d="M291.55 204.25l4.7 4.7m-4.7 0l4.7 -4.7"/><path d="M317.75 210.85l4.7 4.7m-4.7 0l4.7 -4.7"/><path d="M351.45 197.75l4.7 4.7m-4.7 0l4.7 -4.7"/><path d="M395.35 197.75l4.7 4.7m-4.7 0l4.7 -4.7"/><path d="M386.75 199.75l4.7 4.7m-4.7 0l4.7 -4.7"/><path d="M248.75 255.35l4.7 4.7m-4.7 0l4.7 -4.7"/><path d="M84.15 221.45l4.7 4.7m-4.7 0l4.7 -4.7"/><path d="M205.95 218.85l4.7 4.7m-4.7 0l4.7 -4.7"/><path d="M213.95 218.85l4.7 4.7m-4.7 0l4.7 -4.7"/><path d="M344.65 218.85l4.7 4.7m-4.7 0l4.7 -4.7"/><path d="M208.25 265.85l4.7 4.7m-4.7 0l4.7 -4.7"/><path d="M292.05 157.75l4.7 4.7m-4.7 0l4.7 -4.7"/><path d="M317.25 156.25l4.7 4.7m-4.7 0l4.7 -4.7"/><path d="M292.05 256.85l4.7 4.7m-4.7 0l4.7 -4.7"/><path d="M361.05 254.05l4.7 4.7m-4.7 0l4.7 -4.7"/><path d="M202.95 150.25l4.7 4.7m-4.7 0l4.7 -4.7"/><path d="M333.85 150.25l4.7 4.7m-4.7 0l4.7 -4.7"/><path d="M154.05 209.35l4.7 4.7m-4.7 0l4.7 -4.7"/><path d="M183.25 197.25l4.7 4.7m-4.7 0l4.7 -4.7"/><path d="M209.95 197.25l4.7 4.7m-4.7 0l4.7 -4.7"/><path d="M328.35 197.25l4.7 4.7m-4.7 0l4.7 -4.7"/><path d="M400.85 197.25l4.7 4.7m-4.7 0l4.7 -4.7"/><path d="M240.15 320.25l4.7 4.7m-4.7 0l4.7 -4.7"/><path d="M343.15 107.05l4.7 4.7m-4.7 0l4.7 -4.7"/><path d="M180.75 266.25l4.7 4.7m-4.7 0l4.7 -4.7"/><path d="M153.85 172.25l4.7 4.7m-4.7 0l4.7 -4.7"/><path d="M211.95 219.45l4.7 4.7m-4.7 0l4.7 -4.7"/><path d="M331.35 219.45l4.7 4.7m-4.7 0l4.7 -4.7"/><path d="M347.95 219.45l4.7 4.7m-4.7 0l4.7 -4.7"/><path d="M316.85 169.55l4.7 4.7m-4.7 0l4.7 -4.7"/><path d="M131.55 149.75l4.7 4.7m-4.7 0l4.7 -4.7"/><path d="M178.75 151.25l4.7 4.7m-4.7 0l4.7 -4.7"/><path d="M331.35 149.75l4.7 4.7m-4.7 0l4.7 -4.7"/><path d="M187.85 196.75l4.7 4.7m-4.7 0l4.7 -4.7"/><path d="M200.35 196.75l4.7 4.7m-4.7 0l4.7 -4.7"/><path d="M154.55 255.85l4.7 4.7m-4.7 0l4.7 -4.7"/><path d="M178.75 245.75l4.7 4.7m-4.7 0l4.7 -4.7"/><path d="M247.75 251.25l4.7 4.7m-4.7 0l4.7 -4.7"/><path d="M385.75 163.35l4.7 4.7m-4.7 0l4.7 -4.7"/><path d="M194.65 243.55l4.7 4.7m-4.7 0l4.7 -4.7"/><path d="M167.05 54.75l4.7 4.7m-4.7 0l4.7 -4.7"/><path d="M240.85 116.05l4.7 4.7m-4.7 0l4.7 -4.7"/><path d="M266.45 122.05l4.7 4.7m-4.7 0l4.7 -4.7"/><path d="M179.95 290.45l4.7 4.7m-4.7 0l4.7 -4.7"/><path d="M240.85 326.05l4.7 4.7m-4.7 0l4.7 -4.7"/><path d="M283.45 290.45l4.7 4.7m-4.7 0l4.7 -4.7"/><path d="M185.75 172.95l4.7 4.7m-4.7 0l4.7 -4.7"/><path d="M248.75 172.95l4.7 4.7m-4.7 0l4.7 -4.7"/><path d="M276.45 172.95l4.7 4.7m-4.7 0l4.7 -4.7"/><path d="M290.55 172.95l4.7 4.7m-4.7 0l4.7 -4.7"/><path d="M149.55 219.95l4.7 4.7m-4.7 0l4.7 -4.7"/><path d="M201.95 219.95l4.7 4.7m-4.7 0l4.7 -4.7"/><path d="M255.75 219.95l4.7 4.7m-4.7 0l4.7 -4.7"/><path d="M124.95 54.95l4.7 4.7m-4.7 0l4.7 -4.7"/><path d="M385.95 54.95l4.7 4.7m-4.7 0l4.7 -4.7"/><path d="M277.95 149.25l4.7 4.7m-4.7 0l4.7 -4.7"/><path d="M338.85 149.25l4.7 4.7m-4.7 0l4.7 -4.7"/><path d="M193.85 196.25l4.7 4.7m-4.7 0l4.7 -4.7"/><path d="M206.95 196.25l4.7 4.7m-4.7 0l4.7 -4.7"/><path d="M222.05 196.25l4.7 4.7m-4.7 0l4.7 -4.7"/><path d="M392.75 196.25l4.7 4.7m-4.7 0l4.7 -4.7"/><path d="M397.35 196.25l4.7 4.7m-4.7 0l4.7 -4.7"/><path d="M425.55 196.25l4.7 4.7m-4.7 0l4.7 -4.7"/><path d="M247.25 257.35l4.7 4.7m-4.7 0l4.7 -4.7"/><path d="M293.05 247.75l4.7 4.7m-4.7 0l4.7 -4.7"/><path d="M167.35 55.05l4.7 4.7m-4.7 0l4.7 -4.7"/><path d="M149.85 149.05l4.7 4.7m-4.7 0l4.7 -4.7"/><path d="M311.95 125.35l4.7 4.7m-4.7 0l4.7 -4.7"/><path d="M386.75 173.45l4.7 4.7m-4.7 0l4.7 -4.7"/><path d="M137.45 220.45l4.7 4.7m-4.7 0l4.7 -4.7"/><path d="M207.95 220.45l4.7 4.7m-4.7 0l4.7 -4.7"/><path d="M183.25 148.75l4.7 4.7m-4.7 0l4.7 -4.7"/><path d="M197.85 148.75l4.7 4.7m-4.7 0l4.7 -4.7"/><path d="M200.35 148.75l4.7 4.7m-4.7 0l4.7 -4.7"/><path d="M279.45 148.75l4.7 4.7m-4.7 0l4.7 -4.7"/><path d="M246.75 153.75l4.7 4.7m-4.7 0l4.7 -4.7"/><path d="M329.85 148.75l4.7 4.7m-4.7 0l4.7 -4.7"/><path d="M315.75 155.75l4.7 4.7m-4.7 0l4.7 -4.7"/><path d="M403.85 148.75l4.7 4.7m-4.7 0l4.7 -4.7"/><path d="M212.95 195.75l4.7 4.7m-4.7 0l4.7 -4.7"/><path d="M293.55 202.25l4.7 4.7m-4.7 0l4.7 -4.7"/><path d="M246.75 213.85l4.7 4.7m-4.7 0l4.7 -4.7"/><path d="M315.75 197.75l4.7 4.7m-4.7 0l4.7 -4.7"/><path d="M315.75 207.85l4.7 4.7m-4.7 0l4.7 -4.7"/><path d="M336.35 195.75l4.7 4.7m-4.7 0l4.7 -4.7"/><path d="M224.75 152.45l4.7 4.7m-4.7 0l4.7 -4.7"/><path d="M265.55 54.95l4.7 4.7m-4.7 0l4.7 -4.7"/><path d="M241.75 89.95l4.7 4.7m-4.7 0l4.7 -4.7"/><path d="M336.85 173.95l4.7 4.7m-4.7 0l4.7 -4.7"/><path d="M344.95 220.95l4.7 4.7m-4.7 0l4.7 -4.7"/><path d="M154.05 267.95l4.7 4.7m-4.7 0l4.7 -4.7"/><path d="M214.75 267.95l4.7 4.7m-4.7 0l4.7 -4.7"/><path d="M241.95 124.05l4.7 4.7m-4.7 0l4.7 -4.7"/><path d="M190.05 289.35l4.7 4.7m-4.7 0l4.7 -4.7"/><path d="M242.05 297.15l4.7 4.7m-4.7 0l4.7 -4.7"/><path d="M242.05 305.15l4.7 4.7m-4.7 0l4.7 -4.7"/><path d="M363.05 167.35l4.7 4.7m-4.7 0l4.7 -4.7"/><path d="M363.05 173.45l4.7 4.7m-4.7 0l4.7 -4.7"/><path d="M384.25 159.85l4.7 4.7m-4.7 0l4.7 -4.7"/><path d="M195.85 148.25l4.7 4.7m-4.7 0l4.7 -4.7"/><path d="M276.45 148.25l4.7 4.7m-4.7 0l4.7 -4.7"/><path d="M327.85 148.25l4.7 4.7m-4.7 0l4.7 -4.7"/><path d="M388.55 148.25l4.7 4.7m-4.7 0l4.7 -4.7"/><path d="M135.95 195.25l4.7 4.7m-4.7 0l4.7 -4.7"/><path d="M156.05 210.35l4.7 4.7m-4.7 0l4.7 -4.7"/><path d="M203.45 195.25l4.7 4.7m-4.7 0l4.7 -4.7"/><path d="M225.05 197.25l4.7 4.7m-4.7 0l4.7 -4.7"/><path d="M401.35 195.25l4.7 4.7m-4.7 0l4.7 -4.7"/><path d="M350.95 242.25l4.7 4.7m-4.7 0l4.7 -4.7"/><path d="M332.85 268.15l4.7 4.7m-4.7 0l4.7 -4.7"/><path d="M247.55 221.35l4.7 4.7m-4.7 0l4.7 -4.7"/><path d="M162.25 78.95l4.7 4.7m-4.7 0l4.7 -4.7"/><path d="M58.95 237.45l4.7 4.7m-4.7 0l4.7 -4.7"/><path d="M118.05 288.95l4.7 4.7m-4.7 0l4.7 -4.7"/><path d="M197.25 288.95l4.7 4.7m-4.7 0l4.7 -4.7"/><path d="M345.35 305.75l4.7 4.7m-4.7 0l4.7 -4.7"/><path d="M272.45 174.45l4.7 4.7m-4.7 0l4.7 -4.7"/><path d="M289.55 174.45l4.7 4.7m-4.7 0l4.7 -4.7"/><path d="M392.25 174.45l4.7 4.7m-4.7 0l4.7 -4.7"/><path d="M279.95 221.45l4.7 4.7m-4.7 0l4.7 -4.7"/><path d="M182.25 147.75l4.7 4.7m-4.7 0l4.7 -4.7"/><path d="M245.75 154.25l4.7 4.7m-4.7 0l4.7 -4.7"/><path d="M181.75 194.75l4.7 4.7m-4.7 0l4.7 -4.7"/><path d="M255.75 194.75l4.7 4.7m-4.7 0l4.7 -4.7"/><path d="M270.95 194.75l4.7 4.7m-4.7 0l4.7 -4.7"/><path d="M276.95 194.75l4.7 4.7m-4.7 0l4.7 -4.7"/><path d="M245.75 205.85l4.7 4.7m-4.7 0l4.7 -4.7"/><path d="M354.05 194.75l4.7 4.7m-4.7 0l4.7 -4.7"/><path d="M314.75 211.85l4.7 4.7m-4.7 0l4.7 -4.7"/><path d="M242.65 14.15l4.7 4.7m-4.7 0l4.7 -4.7"/><path d="M298.45 126.75l4.7 4.7m-4.7 0l4.7 -4.7"/><path d="M107.55 196.45l4.7 4.7m-4.7 0l4.7 -4.7"/><path d="M229.55 78.45l4.7 4.7m-4.7 0l4.7 -4.7"/><path d="M348.65 268.95l4.7 4.7m-4.7 0l4.7 -4.7"/><path d="M191.35 221.95l4.7 4.7m-4.7 0l4.7 -4.7"/><path d="M199.85 221.95l4.7 4.7m-4.7 0l4.7 -4.7"/><path d="M273.95 221.95l4.7 4.7m-4.7 0l4.7 -4.7"/><path d="M286.05 221.95l4.7 4.7m-4.7 0l4.7 -4.7"/><path d="M292.05 221.95l4.7 4.7m-4.7 0l4.7 -4.7"/><path d="M353.05 221.95l4.7 4.7m-4.7 0l4.7 -4.7"/><path d="M219.85 127.05l4.7 4.7m-4.7 0l4.7 -4.7"/><path d="M180.75 147.25l4.7 4.7m-4.7 0l4.7 -4.7"/><path d="M250.25 147.25l4.7 4.7m-4.7 0l4.7 -4.7"/><path d="M295.05 160.85l4.7 4.7m-4.7 0l4.7 -4.7"/><path d="M116.25 194.25l4.7 4.7m-4.7 0l4.7 -4.7"/><path d="M141.95 194.25l4.7 4.7m-4.7 0l4.7 -4.7"/><path d="M153.55 194.25l4.7 4.7m-4.7 0l4.7 -4.7"/><path d="M157.05 204.25l4.7 4.7m-4.7 0l4.7 -4.7"/><path d="M190.85 194.25l4.7 4.7m-4.7 0l4.7 -4.7"/><path d="M215.05 194.25l4.7 4.7m-4.7 0l4.7 -4.7"/><path d="M176.25 210.35l4.7 4.7m-4.7 0l4.7 -4.7"/><path d="M226.05 208.85l4.7 4.7m-4.7 0l4.7 -4.7"/><path d="M226.05 217.85l4.7 4.7m-4.7 0l4.7 -4.7"/><path d="M247.75 194.25l4.7 4.7m-4.7 0l4.7 -4.7"/><path d="M263.85 194.25l4.7 4.7m-4.7 0l4.7 -4.7"/><path d="M286.05 194.25l4.7 4.7m-4.7 0l4.7 -4.7"/><path d="M292.05 194.25l4.7 4.7m-4.7 0l4.7 -4.7"/><path d="M295.05 206.35l4.7 4.7m-4.7 0l4.7 -4.7"/><path d="M398.85 194.25l4.7 4.7m-4.7 0l4.7 -4.7"/><path d="M251.75 241.25l4.7 4.7m-4.7 0l4.7 -4.7"/><path d="M249.05 222.15l4.7 4.7m-4.7 0l4.7 -4.7"/><path d="M264.15 81.45l4.7 4.7m-4.7 0l4.7 -4.7"/><path d="M107.05 207.35l4.7 4.7m-4.7 0l4.7 -4.7"/><path d="M383.05 198.15l4.7 4.7m-4.7 0l4.7 -4.7"/><path d="M293.25 146.95l4.7 4.7m-4.7 0l4.7 -4.7"/><path d="M115.25 240.95l4.7 4.7m-4.7 0l4.7 -4.7"/><path d="M206.95 240.95l4.7 4.7m-4.7 0l4.7 -4.7"/><path d="M353.55 175.45l4.7 4.7m-4.7 0l4.7 -4.7"/><path d="M150.05 222.45l4.7 4.7m-4.7 0l4.7 -4.7"/><path d="M189.35 222.45l4.7 4.7m-4.7 0l4.7 -4.7"/><path d="M265.85 222.45l4.7 4.7m-4.7 0l4.7 -4.7"/><path d="M320.75 222.45l4.7 4.7m-4.7 0l4.7 -4.7"/><path d="M332.85 222.45l4.7 4.7m-4.7 0l4.7 -4.7"/><path d="M205.45 269.45l4.7 4.7m-4.7 0l4.7 -4.7"/><path d="M234.15 127.45l4.7 4.7m-4.7 0l4.7 -4.7"/><path d="M324.65 127.45l4.7 4.7m-4.7 0l4.7 -4.7"/><path d="M140.55 305.75l4.7 4.7m-4.7 0l4.7 -4.7"/><path d="M313.75 149.25l4.7 4.7m-4.7 0l4.7 -4.7"/><path d="M175.75 156.25l4.7 4.7m-4.7 0l4.7 -4.7"/><path d="M386.75 146.75l4.7 4.7m-4.7 0l4.7 -4.7"/><path d="M199.85 193.75l4.7 4.7m-4.7 0l4.7 -4.7"/><path d="M224.05 193.75l4.7 4.7m-4.7 0l4.7 -4.7"/><path d="M259.85 193.75l4.7 4.7m-4.7 0l4.7 -4.7"/><path d="M273.95 193.75l4.7 4.7m-4.7 0l4.7 -4.7"/><path d="M279.95 193.75l4.7 4.7m-4.7 0l4.7 -4.7"/><path d="M244.75 216.85l4.7 4.7m-4.7 0l4.7 -4.7"/><path d="M351.95 193.75l4.7 4.7m-4.7 0l4.7 -4.7"/><path d="M138.45 269.75l4.7 4.7m-4.7 0l4.7 -4.7"/><path d="M360.35 146.55l4.7 4.7m-4.7 0l4.7 -4.7"/><path d="M313.55 206.05l4.7 4.7m-4.7 0l4.7 -4.7"/><path d="M140.85 83.75l4.7 4.7m-4.7 0l4.7 -4.7"/><path d="M243.85 115.45l4.7 4.7m-4.7 0l4.7 -4.7"/><path d="M263.45 86.45l4.7 4.7m-4.7 0l4.7 -4.7"/><path d="M90.95 217.45l4.7 4.7m-4.7 0l4.7 -4.7"/><path d="M220.05 175.95l4.7 4.7m-4.7 0l4.7 -4.7"/><path d="M276.95 222.95l4.7 4.7m-4.7 0l4.7 -4.7"/><path d="M282.95 222.95l4.7 4.7m-4.7 0l4.7 -4.7"/><path d="M366.25 108.65l4.7 4.7m-4.7 0l4.7 -4.7"/><path d="M106.25 161.35l4.7 4.7m-4.7 0l4.7 -4.7"/><path d="M244.25 153.75l4.7 4.7m-4.7 0l4.7 -4.7"/><path d="M158.05 210.85l4.7 4.7m-4.7 0l4.7 -4.7"/><path d="M175.25 194.25l4.7 4.7m-4.7 0l4.7 -4.7"/><path d="M185.25 193.25l4.7 4.7m-4.7 0l4.7 -4.7"/><path d="M208.95 193.25l4.7 4.7m-4.7 0l4.7 -4.7"/><path d="M227.05 194.75l4.7 4.7m-4.7 0l4.7 -4.7"/><path d="M251.75 193.25l4.7 4.7m-4.7 0l4.7 -4.7"/><path d="M267.85 193.25l4.7 4.7m-4.7 0l4.7 -4.7"/><path d="M326.35 193.25l4.7 4.7m-4.7 0l4.7 -4.7"/><path d="M427.55 193.25l4.7 4.7m-4.7 0l4.7 -4.7"/><path d="M313.25 174.45l4.7 4.7m-4.7 0l4.7 -4.7"/><path d="M296.05 216.85l4.7 4.7m-4.7 0l4.7 -4.7"/><path d="M365.05 195.75l4.7 4.7m-4.7 0l4.7 -4.7"/><path d="M365.05 216.85l4.7 4.7m-4.7 0l4.7 -4.7"/><path d="M334.35 128.05l4.7 4.7m-4.7 0l4.7 -4.7"/><path d="M184.45 128.25l4.7 4.7m-4.7 0l4.7 -4.7"/><path d="M210.05 128.25l4.7 4.7m-4.7 0l4.7 -4.7"/><path d="M392.75 58.25l4.7 4.7m-4.7 0l4.7 -4.7"/><path d="M138.65 338.25l4.7 4.7m-4.7 0l4.7 -4.7"/><path d="M184.05 338.25l4.7 4.7m-4.7 0l4.7 -4.7"/><path d="M190.45 338.25l4.7 4.7m-4.7 0l4.7 -4.7"/><path d="M199.55 338.25l4.7 4.7m-4.7 0l4.7 -4.7"/><path d="M204.05 338.25l4.7 4.7m-4.7 0l4.7 -4.7"/><path d="M220.55 338.25l4.7 4.7m-4.7 0l4.7 -4.7"/><path d="M222.05 338.25l4.7 4.7m-4.7 0l4.7 -4.7"/><path d="M223.55 338.25l4.7 4.7m-4.7 0l4.7 -4.7"/><path d="M236.65 338.25l4.7 4.7m-4.7 0l4.7 -4.7"/><path d="M290.15 338.25l4.7 4.7m-4.7 0l4.7 -4.7"/><path d="M392.45 338.25l4.7 4.7m-4.7 0l4.7 -4.7"/><path d="M106.05 240.95l4.7 4.7m-4.7 0l4.7 -4.7"/><path d="M158.35 245.75l4.7 4.7m-4.7 0l4.7 -4.7"/><path d="M185.25 176.45l4.7 4.7m-4.7 0l4.7 -4.7"/><path d="M289.05 223.45l4.7 4.7m-4.7 0l4.7 -4.7"/><path d="M244.25 223.45l4.7 4.7m-4.7 0l4.7 -4.7"/><path d="M355.05 223.45l4.7 4.7m-4.7 0l4.7 -4.7"/><path d="M362.05 270.45l4.7 4.7m-4.7 0l4.7 -4.7"/><path d="M235.65 128.55l4.7 4.7m-4.7 0l4.7 -4.7"/><path d="M129.85 192.75l4.7 4.7m-4.7 0l4.7 -4.7"/><path d="M193.85 192.75l4.7 4.7m-4.7 0l4.7 -4.7"/><path d="M218.05 192.75l4.7 4.7m-4.7 0l4.7 -4.7"/><path d="M243.75 211.85l4.7 4.7m-4.7 0l4.7 -4.7"/><path d="M317.25 192.75l4.7 4.7m-4.7 0l4.7 -4.7"/><path d="M312.75 199.75l4.7 4.7m-4.7 0l4.7 -4.7"/><path d="M262.65 95.35l4.7 4.7m-4.7 0l4.7 -4.7"/><path d="M347.65 318.55l4.7 4.7m-4.7 0l4.7 -4.7"/><path d="M262.65 326.55l4.7 4.7m-4.7 0l4.7 -4.7"/><path d="M159.65 326.55l4.7 4.7m-4.7 0l4.7 -4.7"/><path d="M400.55 128.65l4.7 4.7m-4.7 0l4.7 -4.7"/><path d="M222.35 58.65l4.7 4.7m-4.7 0l4.7 -4.7"/><path d="M227.75 253.35l4.7 4.7m-4.7 0l4.7 -4.7"/><path d="M347.95 95.15l4.7 4.7m-4.7 0l4.7 -4.7"/><path d="M450.95 119.25l4.7 4.7m-4.7 0l4.7 -4.7"/><path d="M244.95 121.75l4.7 4.7m-4.7 0l4.7 -4.7"/><path d="M174.25 155.75l4.7 4.7m-4.7 0l4.7 -4.7"/><path d="M132.45 192.25l4.7 4.7m-4.7 0l4.7 -4.7"/><path d="M139.45 192.25l4.7 4.7m-4.7 0l4.7 -4.7"/><path d="M146.05 192.25l4.7 4.7m-4.7 0l4.7 -4.7"/><path d="M156.55 192.25l4.7 4.7m-4.7 0l4.7 -4.7"/><path d="M159.05 194.25l4.7 4.7m-4.7 0l4.7 -4.7"/><path d="M178.75 192.25l4.7 4.7m-4.7 0l4.7 -4.7"/><path d="M202.95 192.25l4.7 4.7m-4.7 0l4.7 -4.7"/><path d="M174.25 207.85l4.7 4.7m-4.7 0l4.7 -4.7"/><path d="M228.05 216.85l4.7 4.7m-4.7 0l4.7 -4.7"/><path d="M297.05 200.25l4.7 4.7m-4.7 0l4.7 -4.7"/><path d="M243.25 208.35l4.7 4.7m-4.7 0l4.7 -4.7"/><path d="M323.25 192.25l4.7 4.7m-4.7 0l4.7 -4.7"/><path d="M312.25 208.85l4.7 4.7m-4.7 0l4.7 -4.7"/><path d="M366.05 208.35l4.7 4.7m-4.7 0l4.7 -4.7"/><path d="M382.75 192.25l4.7 4.7m-4.7 0l4.7 -4.7"/><path d="M424.05 192.25l4.7 4.7m-4.7 0l4.7 -4.7"/><path d="M177.95 239.25l4.7 4.7m-4.7 0l4.7 -4.7"/><path d="M320.05 239.25l4.7 4.7m-4.7 0l4.7 -4.7"/><path d="M373.45 76.05l4.7 4.7m-4.7 0l4.7 -4.7"/><path d="M159.25 260.85l4.7 4.7m-4.7 0l4.7 -4.7"/><path d="M219.05 129.25l4.7 4.7m-4.7 0l4.7 -4.7"/><path d="M142.35 305.75l4.7 4.7m-4.7 0l4.7 -4.7"/><path d="M159.35 169.35l4.7 4.7m-4.7 0l4.7 -4.7"/><path d="M262.85 144.95l4.7 4.7m-4.7 0l4.7 -4.7"/><path d="M174.75 177.45l4.7 4.7m-4.7 0l4.7 -4.7"/><path d="M268.85 177.45l4.7 4.7m-4.7 0l4.7 -4.7"/><path d="M364.05 177.45l4.7 4.7m-4.7 0l4.7 -4.7"/><path d="M312.25 177.45l4.7 4.7m-4.7 0l4.7 -4.7"/><path d="M385.85 177.45l4.7 4.7m-4.7 0l4.7 -4.7"/><path d="M228.55 219.95l4.7 4.7m-4.7 0l4.7 -4.7"/><path d="M319.75 144.75l4.7 4.7m-4.7 0l4.7 -4.7"/><path d="M188.35 191.75l4.7 4.7m-4.7 0l4.7 -4.7"/><path d="M211.95 191.75l4.7 4.7m-4.7 0l4.7 -4.7"/><path d="M173.75 202.75l4.7 4.7m-4.7 0l4.7 -4.7"/><path d="M271.45 191.75l4.7 4.7m-4.7 0l4.7 -4.7"/><path d="M277.45 191.75l4.7 4.7m-4.7 0l4.7 -4.7"/><path d="M297.05 191.75l4.7 4.7m-4.7 0l4.7 -4.7"/><path d="M388.75 191.75l4.7 4.7m-4.7 0l4.7 -4.7"/><path d="M400.35 191.75l4.7 4.7m-4.7 0l4.7 -4.7"/><path d="M417.45 191.75l4.7 4.7m-4.7 0l4.7 -4.7"/><path d="M426.05 191.75l4.7 4.7m-4.7 0l4.7 -4.7"/><path d="M107.25 224.65l4.7 4.7m-4.7 0l4.7 -4.7"/><path d="M348.65 319.45l4.7 4.7m-4.7 0l4.7 -4.7"/><path d="M122.25 129.95l4.7 4.7m-4.7 0l4.7 -4.7"/><path d="M374.65 129.95l4.7 4.7m-4.7 0l4.7 -4.7"/><path d="M221.55 177.95l4.7 4.7m-4.7 0l4.7 -4.7"/><path d="M188.35 177.95l4.7 4.7m-4.7 0l4.7 -4.7"/><path d="M182.75 177.95l4.7 4.7m-4.7 0l4.7 -4.7"/><path d="M254.75 177.95l4.7 4.7m-4.7 0l4.7 -4.7"/><path d="M196.85 224.95l4.7 4.7m-4.7 0l4.7 -4.7"/><path d="M224.05 224.95l4.7 4.7m-4.7 0l4.7 -4.7"/><path d="M331.85 224.95l4.7 4.7m-4.7 0l4.7 -4.7"/><path d="M298.15 193.75l4.7 4.7m-4.7 0l4.7 -4.7"/><path d="M298.15 245.25l4.7 4.7m-4.7 0l4.7 -4.7"/><path d="M367.15 255.35l4.7 4.7m-4.7 0l4.7 -4.7"/><path d="M104.75 144.15l4.7 4.7m-4.7 0l4.7 -4.7"/><path d="M173.15 164.35l4.7 4.7m-4.7 0l4.7 -4.7"/><path d="M196.85 191.15l4.7 4.7m-4.7 0l4.7 -4.7"/><path d="M221.05 191.15l4.7 4.7m-4.7 0l4.7 -4.7"/><path d="M250.75 191.15l4.7 4.7m-4.7 0l4.7 -4.7"/><path d="M257.85 191.15l4.7 4.7m-4.7 0l4.7 -4.7"/><path d="M264.85 191.15l4.7 4.7m-4.7 0l4.7 -4.7"/><path d="M284.05 191.15l4.7 4.7m-4.7 0l4.7 -4.7"/><path d="M290.55 191.15l4.7 4.7m-4.7 0l4.7 -4.7"/><path d="M314.25 191.15l4.7 4.7m-4.7 0l4.7 -4.7"/><path d="M343.45 191.15l4.7 4.7m-4.7 0l4.7 -4.7"/><path d="M173.15 257.35l4.7 4.7m-4.7 0l4.7 -4.7"/><path d="M311.15 161.35l4.7 4.7m-4.7 0l4.7 -4.7"/><path d="M143.15 338.25l4.7 4.7m-4.7 0l4.7 -4.7"/><path d="M397.65 143.85l4.7 4.7m-4.7 0l4.7 -4.7"/><path d="M122.15 190.85l4.7 4.7m-4.7 0l4.7 -4.7"/><path d="M157.85 325.75l4.7 4.7m-4.7 0l4.7 -4.7"/><path d="M273.15 74.85l4.7 4.7m-4.7 0l4.7 -4.7"/><path d="M260.85 320.55l4.7 4.7m-4.7 0l4.7 -4.7"/><path d="M397.65 225.45l4.7 4.7m-4.7 0l4.7 -4.7"/><path d="M183.25 272.45l4.7 4.7m-4.7 0l4.7 -4.7"/><path d="M285.85 272.45l4.7 4.7m-4.7 0l4.7 -4.7"/><path d="M307.95 60.55l4.7 4.7m-4.7 0l4.7 -4.7"/><path d="M233.05 74.75l4.7 4.7m-4.7 0l4.7 -4.7"/><path d="M140.15 284.75l4.7 4.7m-4.7 0l4.7 -4.7"/><path d="M241.65 168.85l4.7 4.7m-4.7 0l4.7 -4.7"/><path d="M367.65 163.85l4.7 4.7m-4.7 0l4.7 -4.7"/><path d="M205.95 190.65l4.7 4.7m-4.7 0l4.7 -4.7"/><path d="M243.75 190.65l4.7 4.7m-4.7 0l4.7 -4.7"/><path d="M280.45 190.65l4.7 4.7m-4.7 0l4.7 -4.7"/><path d="M241.65 201.25l4.7 4.7m-4.7 0l4.7 -4.7"/><path d="M298.65 211.85l4.7 4.7m-4.7 0l4.7 -4.7"/><path d="M310.65 192.25l4.7 4.7m-4.7 0l4.7 -4.7"/><path d="M320.25 190.65l4.7 4.7m-4.7 0l4.7 -4.7"/><path d="M357.55 190.65l4.7 4.7m-4.7 0l4.7 -4.7"/><path d="M386.25 190.65l4.7 4.7m-4.7 0l4.7 -4.7"/><path d="M419.95 190.65l4.7 4.7m-4.7 0l4.7 -4.7"/><path d="M229.65 247.75l4.7 4.7m-4.7 0l4.7 -4.7"/><path d="M157.55 14.15l4.7 4.7m-4.7 0l4.7 -4.7"/><path d="M390.35 60.85l4.7 4.7m-4.7 0l4.7 -4.7"/><path d="M207.75 130.85l4.7 4.7m-4.7 0l4.7 -4.7"/><path d="M131.85 143.45l4.7 4.7m-4.7 0l4.7 -4.7"/><path d="M229.85 267.95l4.7 4.7m-4.7 0l4.7 -4.7"/><path d="M143.85 30.45l4.7 4.7m-4.7 0l4.7 -4.7"/><path d="M246.85 116.05l4.7 4.7m-4.7 0l4.7 -4.7"/><path d="M260.45 83.45l4.7 4.7m-4.7 0l4.7 -4.7"/><path d="M143.85 305.75l4.7 4.7m-4.7 0l4.7 -4.7"/><path d="M225.85 284.45l4.7 4.7m-4.7 0l4.7 -4.7"/><path d="M364.95 284.45l4.7 4.7m-4.7 0l4.7 -4.7"/><path d="M366.45 284.45l4.7 4.7m-4.7 0l4.7 -4.7"/><path d="M367.95 284.45l4.7 4.7m-4.7 0l4.7 -4.7"/><path d="M369.45 284.45l4.7 4.7m-4.7 0l4.7 -4.7"/><path d="M227.05 178.95l4.7 4.7m-4.7 0l4.7 -4.7"/><path d="M179.75 178.95l4.7 4.7m-4.7 0l4.7 -4.7"/><path d="M269.35 178.95l4.7 4.7m-4.7 0l4.7 -4.7"/><path d="M172.65 225.95l4.7 4.7m-4.7 0l4.7 -4.7"/><path d="M217.05 225.95l4.7 4.7m-4.7 0l4.7 -4.7"/><path d="M281.95 225.95l4.7 4.7m-4.7 0l4.7 -4.7"/><path d="M290.05 225.95l4.7 4.7m-4.7 0l4.7 -4.7"/><path d="M334.85 225.95l4.7 4.7m-4.7 0l4.7 -4.7"/><path d="M267.85 272.95l4.7 4.7m-4.7 0l4.7 -4.7"/><path d="M250.25 143.15l4.7 4.7m-4.7 0l4.7 -4.7"/><path d="M226.05 190.15l4.7 4.7m-4.7 0l4.7 -4.7"/><path d="M230.15 192.25l4.7 4.7m-4.7 0l4.7 -4.7"/><path d="M230.15 225.95l4.7 4.7m-4.7 0l4.7 -4.7"/><path d="M254.25 190.15l4.7 4.7m-4.7 0l4.7 -4.7"/><path d="M268.35 190.15l4.7 4.7m-4.7 0l4.7 -4.7"/><path d="M274.45 190.15l4.7 4.7m-4.7 0l4.7 -4.7"/><path d="M294.05 190.15l4.7 4.7m-4.7 0l4.7 -4.7"/><path d="M241.15 193.75l4.7 4.7m-4.7 0l4.7 -4.7"/><path d="M326.35 190.15l4.7 4.7m-4.7 0l4.7 -4.7"/><path d="M349.95 190.15l4.7 4.7m-4.7 0l4.7 -4.7"/><path d="M379.15 191.75l4.7 4.7m-4.7 0l4.7 -4.7"/><path d="M397.85 190.15l4.7 4.7m-4.7 0l4.7 -4.7"/><path d="M406.85 190.15l4.7 4.7m-4.7 0l4.7 -4.7"/><path d="M172.15 256.65l4.7 4.7m-4.7 0l4.7 -4.7"/><path d="M299.15 247.75l4.7 4.7m-4.7 0l4.7 -4.7"/><path d="M343.65 237.15l4.7 4.7m-4.7 0l4.7 -4.7"/><path d="M177.25 273.15l4.7 4.7m-4.7 0l4.7 -4.7"/><path d="M241.65 273.15l4.7 4.7m-4.7 0l4.7 -4.7"/><path d="M157.15 41.45l4.7 4.7m-4.7 0l4.7 -4.7"/><path d="M368.35 149.25l4.7 4.7m-4.7 0l4.7 -4.7"/><path d="M378.95 148.45l4.7 4.7m-4.7 0l4.7 -4.7"/><path d="M378.95 211.05l4.7 4.7m-4.7 0l4.7 -4.7"/><path d="M159.25 283.95l4.7 4.7m-4.7 0l4.7 -4.7"/><path d="M203.55 283.95l4.7 4.7m-4.7 0l4.7 -4.7"/><path d="M334.55 283.95l4.7 4.7m-4.7 0l4.7 -4.7"/><path d="M259.95 290.45l4.7 4.7m-4.7 0l4.7 -4.7"/><path d="M194.85 236.85l4.7 4.7m-4.7 0l4.7 -4.7"/><path d="M219.05 179.45l4.7 4.7m-4.7 0l4.7 -4.7"/><path d="M202.95 179.45l4.7 4.7m-4.7 0l4.7 -4.7"/><path d="M251.75 226.45l4.7 4.7m-4.7 0l4.7 -4.7"/><path d="M309.65 143.65l4.7 4.7m-4.7 0l4.7 -4.7"/><path d="M309.65 198.75l4.7 4.7m-4.7 0l4.7 -4.7"/><path d="M368.65 194.75l4.7 4.7m-4.7 0l4.7 -4.7"/><path d="M247.25 189.65l4.7 4.7m-4.7 0l4.7 -4.7"/><path d="M261.35 189.65l4.7 4.7m-4.7 0l4.7 -4.7"/><path d="M287.55 189.65l4.7 4.7m-4.7 0l4.7 -4.7"/><path d="M340.45 189.65l4.7 4.7m-4.7 0l4.7 -4.7"/><path d="M403.85 189.65l4.7 4.7m-4.7 0l4.7 -4.7"/><path d="M284.55 236.65l4.7 4.7m-4.7 0l4.7 -4.7"/><path d="M297.55 236.65l4.7 4.7m-4.7 0l4.7 -4.7"/><path d="M335.35 236.65l4.7 4.7m-4.7 0l4.7 -4.7"/><path d="M144.65 122.35l4.7 4.7m-4.7 0l4.7 -4.7"/><path d="M247.65 297.15l4.7 4.7m-4.7 0l4.7 -4.7"/><path d="M247.65 322.05l4.7 4.7m-4.7 0l4.7 -4.7"/><path d="M144.15 179.75l4.7 4.7m-4.7 0l4.7 -4.7"/><path d="M223.05 179.95l4.7 4.7m-4.7 0l4.7 -4.7"/><path d="M196.85 179.95l4.7 4.7m-4.7 0l4.7 -4.7"/><path d="M172.65 179.95l4.7 4.7m-4.7 0l4.7 -4.7"/><path d="M247.75 179.95l4.7 4.7m-4.7 0l4.7 -4.7"/><path d="M411.45 179.95l4.7 4.7m-4.7 0l4.7 -4.7"/><path d="M180.25 226.95l4.7 4.7m-4.7 0l4.7 -4.7"/><path d="M185.65 132.05l4.7 4.7m-4.7 0l4.7 -4.7"/><path d="M248.05 60.95l4.7 4.7m-4.7 0l4.7 -4.7"/><path d="M162.15 192.75l4.7 4.7m-4.7 0l4.7 -4.7"/><path d="M231.15 197.75l4.7 4.7m-4.7 0l4.7 -4.7"/><path d="M171.15 208.35l4.7 4.7m-4.7 0l4.7 -4.7"/><path d="M231.15 213.85l4.7 4.7m-4.7 0l4.7 -4.7"/><path d="M231.15 221.95l4.7 4.7m-4.7 0l4.7 -4.7"/><path d="M240.15 189.65l4.7 4.7m-4.7 0l4.7 -4.7"/><path d="M315.25 189.15l4.7 4.7m-4.7 0l4.7 -4.7"/><path d="M355.55 189.15l4.7 4.7m-4.7 0l4.7 -4.7"/><path d="M231.15 243.75l4.7 4.7m-4.7 0l4.7 -4.7"/><path d="M171.15 263.85l4.7 4.7m-4.7 0l4.7 -4.7"/><path d="M273.45 236.15l4.7 4.7m-4.7 0l4.7 -4.7"/><path d="M300.15 164.85l4.7 4.7m-4.7 0l4.7 -4.7"/><path d="M378.15 157.75l4.7 4.7m-4.7 0l4.7 -4.7"/><path d="M300.15 190.15l4.7 4.7m-4.7 0l4.7 -4.7"/><path d="M300.15 209.35l4.7 4.7m-4.7 0l4.7 -4.7"/><path d="M309.15 203.25l4.7 4.7m-4.7 0l4.7 -4.7"/><path d="M369.15 253.85l4.7 4.7m-4.7 0l4.7 -4.7"/><path d="M362.05 127.75l4.7 4.7m-4.7 0l4.7 -4.7"/><path d="M361.95 99.25l4.7 4.7m-4.7 0l4.7 -4.7"/><path d="M203.25 282.95l4.7 4.7m-4.7 0l4.7 -4.7"/><path d="M258.95 319.45l4.7 4.7m-4.7 0l4.7 -4.7"/><path d="M192.35 180.45l4.7 4.7m-4.7 0l4.7 -4.7"/><path d="M335.85 180.45l4.7 4.7m-4.7 0l4.7 -4.7"/><path d="M175.25 227.45l4.7 4.7m-4.7 0l4.7 -4.7"/><path d="M155.75 95.35l4.7 4.7m-4.7 0l4.7 -4.7"/><path d="M170.65 177.95l4.7 4.7m-4.7 0l4.7 -4.7"/><path d="M321.25 141.65l4.7 4.7m-4.7 0l4.7 -4.7"/><path d="M154.05 188.65l4.7 4.7m-4.7 0l4.7 -4.7"/><path d="M191.85 188.65l4.7 4.7m-4.7 0l4.7 -4.7"/><path d="M213.95 188.65l4.7 4.7m-4.7 0l4.7 -4.7"/><path d="M300.65 201.25l4.7 4.7m-4.7 0l4.7 -4.7"/><path d="M309.15 188.65l4.7 4.7m-4.7 0l4.7 -4.7"/><path d="M323.75 188.65l4.7 4.7m-4.7 0l4.7 -4.7"/><path d="M347.95 188.65l4.7 4.7m-4.7 0l4.7 -4.7"/><path d="M369.65 192.75l4.7 4.7m-4.7 0l4.7 -4.7"/><path d="M410.95 188.65l4.7 4.7m-4.7 0l4.7 -4.7"/><path d="M281.95 235.65l4.7 4.7m-4.7 0l4.7 -4.7"/><path d="M156.25 227.65l4.7 4.7m-4.7 0l4.7 -4.7"/><path d="M145.65 14.15l4.7 4.7m-4.7 0l4.7 -4.7"/><path d="M145.65 115.45l4.7 4.7m-4.7 0l4.7 -4.7"/><path d="M219.85 72.65l4.7 4.7m-4.7 0l4.7 -4.7"/><path d="M285.95 132.75l4.7 4.7m-4.7 0l4.7 -4.7"/><path d="M396.75 62.75l4.7 4.7m-4.7 0l4.7 -4.7"/><path d="M239.35 261.85l4.7 4.7m-4.7 0l4.7 -4.7"/><path d="M243.25 180.95l4.7 4.7m-4.7 0l4.7 -4.7"/><path d="M310.65 180.95l4.7 4.7m-4.7 0l4.7 -4.7"/><path d="M195.85 227.95l4.7 4.7m-4.7 0l4.7 -4.7"/><path d="M288.05 227.95l4.7 4.7m-4.7 0l4.7 -4.7"/><path d="M336.85 227.95l4.7 4.7m-4.7 0l4.7 -4.7"/><path d="M217.65 188.25l4.7 4.7m-4.7 0l4.7 -4.7"/><path d="M208.45 141.15l4.7 4.7m-4.7 0l4.7 -4.7"/><path d="M170.15 150.25l4.7 4.7m-4.7 0l4.7 -4.7"/><path d="M171.65 188.15l4.7 4.7m-4.7 0l4.7 -4.7"/><path d="M202.95 188.15l4.7 4.7m-4.7 0l4.7 -4.7"/><path d="M232.15 227.95l4.7 4.7m-4.7 0l4.7 -4.7"/><path d="M276.95 188.15l4.7 4.7m-4.7 0l4.7 -4.7"/><path d="M127.85 235.15l4.7 4.7m-4.7 0l4.7 -4.7"/><path d="M153.55 235.15l4.7 4.7m-4.7 0l4.7 -4.7"/><path d="M158.55 235.15l4.7 4.7m-4.7 0l4.7 -4.7"/><path d="M249.75 235.15l4.7 4.7m-4.7 0l4.7 -4.7"/><path d="M286.05 235.15l4.7 4.7m-4.7 0l4.7 -4.7"/><path d="M146.15 122.35l4.7 4.7m-4.7 0l4.7 -4.7"/><path d="M249.15 303.95l4.7 4.7m-4.7 0l4.7 -4.7"/><path d="M163.35 152.25l4.7 4.7m-4.7 0l4.7 -4.7"/><path d="M292.05 181.45l4.7 4.7m-4.7 0l4.7 -4.7"/><path d="M356.05 181.45l4.7 4.7m-4.7 0l4.7 -4.7"/><path d="M388.75 181.45l4.7 4.7m-4.7 0l4.7 -4.7"/><path d="M278.95 228.45l4.7 4.7m-4.7 0l4.7 -4.7"/><path d="M146.55 49.55l4.7 4.7m-4.7 0l4.7 -4.7"/><path d="M249.55 115.45l4.7 4.7m-4.7 0l4.7 -4.7"/><path d="M249.55 319.75l4.7 4.7m-4.7 0l4.7 -4.7"/><path d="M232.65 169.85l4.7 4.7m-4.7 0l4.7 -4.7"/><path d="M301.65 144.15l4.7 4.7m-4.7 0l4.7 -4.7"/><path d="M301.65 171.35l4.7 4.7m-4.7 0l4.7 -4.7"/><path d="M376.65 170.85l4.7 4.7m-4.7 0l4.7 -4.7"/><path d="M370.65 197.25l4.7 4.7m-4.7 0l4.7 -4.7"/><path d="M301.65 257.05l4.7 4.7m-4.7 0l4.7 -4.7"/><path d="M221.55 140.65l4.7 4.7m-4.7 0l4.7 -4.7"/><path d="M331.35 140.65l4.7 4.7m-4.7 0l4.7 -4.7"/><path d="M342.45 140.65l4.7 4.7m-4.7 0l4.7 -4.7"/><path d="M353.75 140.65l4.7 4.7m-4.7 0l4.7 -4.7"/><path d="M100.65 196.25l4.7 4.7m-4.7 0l4.7 -4.7"/><path d="M182.75 187.65l4.7 4.7m-4.7 0l4.7 -4.7"/><path d="M227.05 187.65l4.7 4.7m-4.7 0l4.7 -4.7"/><path d="M241.65 187.65l4.7 4.7m-4.7 0l4.7 -4.7"/><path d="M256.85 187.65l4.7 4.7m-4.7 0l4.7 -4.7"/><path d="M264.85 187.65l4.7 4.7m-4.7 0l4.7 -4.7"/><path d="M292.05 187.65l4.7 4.7m-4.7 0l4.7 -4.7"/><path d="M328.85 187.65l4.7 4.7m-4.7 0l4.7 -4.7"/><path d="M226.05 234.65l4.7 4.7m-4.7 0l4.7 -4.7"/><path d="M238.65 240.75l4.7 4.7m-4.7 0l4.7 -4.7"/><path d="M289.05 234.65l4.7 4.7m-4.7 0l4.7 -4.7"/><path d="M296.05 234.65l4.7 4.7m-4.7 0l4.7 -4.7"/><path d="M257.05 275.65l4.7 4.7m-4.7 0l4.7 -4.7"/><path d="M266.95 181.65l4.7 4.7m-4.7 0l4.7 -4.7"/><path d="M208.55 133.85l4.7 4.7m-4.7 0l4.7 -4.7"/><path d="M342.35 133.85l4.7 4.7m-4.7 0l4.7 -4.7"/><path d="M125.35 181.95l4.7 4.7m-4.7 0l4.7 -4.7"/><path d="M228.05 181.95l4.7 4.7m-4.7 0l4.7 -4.7"/><path d="M220.05 181.95l4.7 4.7m-4.7 0l4.7 -4.7"/><path d="M204.45 181.95l4.7 4.7m-4.7 0l4.7 -4.7"/><path d="M269.85 181.95l4.7 4.7m-4.7 0l4.7 -4.7"/><path d="M259.45 181.95l4.7 4.7m-4.7 0l4.7 -4.7"/><path d="M340.95 181.95l4.7 4.7m-4.7 0l4.7 -4.7"/><path d="M171.65 228.95l4.7 4.7m-4.7 0l4.7 -4.7"/><path d="M178.25 228.95l4.7 4.7m-4.7 0l4.7 -4.7"/><path d="M223.05 228.95l4.7 4.7m-4.7 0l4.7 -4.7"/><path d="M276.95 228.95l4.7 4.7m-4.7 0l4.7 -4.7"/><path d="M298.15 228.95l4.7 4.7m-4.7 0l4.7 -4.7"/><path d="M339.95 228.95l4.7 4.7m-4.7 0l4.7 -4.7"/><path d="M344.95 228.95l4.7 4.7m-4.7 0l4.7 -4.7"/><path d="M358.05 228.95l4.7 4.7m-4.7 0l4.7 -4.7"/><path d="M430.85 182.05l4.7 4.7m-4.7 0l4.7 -4.7"/><path d="M371.15 190.65l4.7 4.7m-4.7 0l4.7 -4.7"/><path d="M217.55 140.15l4.7 4.7m-4.7 0l4.7 -4.7"/><path d="M227.05 140.15l4.7 4.7m-4.7 0l4.7 -4.7"/><path d="M188.35 187.15l4.7 4.7m-4.7 0l4.7 -4.7"/><path d="M206.95 187.15l4.7 4.7m-4.7 0l4.7 -4.7"/><path d="M233.15 194.25l4.7 4.7m-4.7 0l4.7 -4.7"/><path d="M233.15 215.85l4.7 4.7m-4.7 0l4.7 -4.7"/><path d="M249.75 187.15l4.7 4.7m-4.7 0l4.7 -4.7"/><path d="M272.95 187.15l4.7 4.7m-4.7 0l4.7 -4.7"/><path d="M284.05 187.15l4.7 4.7m-4.7 0l4.7 -4.7"/><path d="M238.15 216.85l4.7 4.7m-4.7 0l4.7 -4.7"/><path d="M318.25 187.15l4.7 4.7m-4.7 0l4.7 -4.7"/><path d="M221.55 234.15l4.7 4.7m-4.7 0l4.7 -4.7"/><path d="M233.15 242.25l4.7 4.7m-4.7 0l4.7 -4.7"/><path d="M307.15 191.15l4.7 4.7m-4.7 0l4.7 -4.7"/><path d="M376.15 222.45l4.7 4.7m-4.7 0l4.7 -4.7"/><path d="M146.85 280.95l4.7 4.7m-4.7 0l4.7 -4.7"/><path d="M261.95 280.95l4.7 4.7m-4.7 0l4.7 -4.7"/><path d="M288.55 280.95l4.7 4.7m-4.7 0l4.7 -4.7"/><path d="M324.65 280.95l4.7 4.7m-4.7 0l4.7 -4.7"/><path d="M306.85 162.55l4.7 4.7m-4.7 0l4.7 -4.7"/><path d="M375.85 240.95l4.7 4.7m-4.7 0l4.7 -4.7"/><path d="M267.65 276.45l4.7 4.7m-4.7 0l4.7 -4.7"/><path d="M200.85 182.45l4.7 4.7m-4.7 0l4.7 -4.7"/><path d="M342.95 182.45l4.7 4.7m-4.7 0l4.7 -4.7"/><path d="M345.95 182.45l4.7 4.7m-4.7 0l4.7 -4.7"/><path d="M389.75 182.45l4.7 4.7m-4.7 0l4.7 -4.7"/><path d="M408.45 182.45l4.7 4.7m-4.7 0l4.7 -4.7"/><path d="M100.15 229.45l4.7 4.7m-4.7 0l4.7 -4.7"/><path d="M143.25 229.45l4.7 4.7m-4.7 0l4.7 -4.7"/><path d="M182.75 229.45l4.7 4.7m-4.7 0l4.7 -4.7"/><path d="M197.85 229.45l4.7 4.7m-4.7 0l4.7 -4.7"/><path d="M207.95 229.45l4.7 4.7m-4.7 0l4.7 -4.7"/><path d="M239.65 229.45l4.7 4.7m-4.7 0l4.7 -4.7"/><path d="M255.25 229.45l4.7 4.7m-4.7 0l4.7 -4.7"/><path d="M367.15 229.45l4.7 4.7m-4.7 0l4.7 -4.7"/><path d="M164.65 181.95l4.7 4.7m-4.7 0l4.7 -4.7"/><path d="M220.05 139.65l4.7 4.7m-4.7 0l4.7 -4.7"/><path d="M283.45 139.65l4.7 4.7m-4.7 0l4.7 -4.7"/><path d="M302.65 158.25l4.7 4.7m-4.7 0l4.7 -4.7"/><path d="M306.65 153.75l4.7 4.7m-4.7 0l4.7 -4.7"/><path d="M371.65 160.95l4.7 4.7m-4.7 0l4.7 -4.7"/><path d="M164.65 193.75l4.7 4.7m-4.7 0l4.7 -4.7"/><path d="M164.65 208.85l4.7 4.7m-4.7 0l4.7 -4.7"/><path d="M168.65 186.65l4.7 4.7m-4.7 0l4.7 -4.7"/><path d="M199.85 186.65l4.7 4.7m-4.7 0l4.7 -4.7"/><path d="M231.15 186.65l4.7 4.7m-4.7 0l4.7 -4.7"/><path d="M296.05 186.65l4.7 4.7m-4.7 0l4.7 -4.7"/><path d="M237.65 194.75l4.7 4.7m-4.7 0l4.7 -4.7"/><path d="M237.65 202.75l4.7 4.7m-4.7 0l4.7 -4.7"/><path d="M312.25 186.65l4.7 4.7m-4.7 0l4.7 -4.7"/><path d="M306.65 196.75l4.7 4.7m-4.7 0l4.7 -4.7"/><path d="M383.75 186.65l4.7 4.7m-4.7 0l4.7 -4.7"/><path d="M375.65 191.15l4.7 4.7m-4.7 0l4.7 -4.7"/><path d="M375.65 225.45l4.7 4.7m-4.7 0l4.7 -4.7"/><path d="M99.65 251.25l4.7 4.7m-4.7 0l4.7 -4.7"/><path d="M237.65 243.25l4.7 4.7m-4.7 0l4.7 -4.7"/><path d="M271.95 233.65l4.7 4.7m-4.7 0l4.7 -4.7"/><path d="M191.25 280.65l4.7 4.7m-4.7 0l4.7 -4.7"/><path d="M230.35 280.65l4.7 4.7m-4.7 0l4.7 -4.7"/><path d="M147.65 122.35l4.7 4.7m-4.7 0l4.7 -4.7"/><path d="M96.95 210.65l4.7 4.7m-4.7 0l4.7 -4.7"/><path d="M147.65 338.25l4.7 4.7m-4.7 0l4.7 -4.7"/><path d="M116.95 276.75l4.7 4.7m-4.7 0l4.7 -4.7"/><path d="M150.75 276.75l4.7 4.7m-4.7 0l4.7 -4.7"/><path d="M375.45 240.75l4.7 4.7m-4.7 0l4.7 -4.7"/><path d="M369.15 64.85l4.7 4.7m-4.7 0l4.7 -4.7"/><path d="M77.25 274.85l4.7 4.7m-4.7 0l4.7 -4.7"/><path d="M221.35 186.35l4.7 4.7m-4.7 0l4.7 -4.7"/><path d="M147.95 40.05l4.7 4.7m-4.7 0l4.7 -4.7"/><path d="M250.95 78.95l4.7 4.7m-4.7 0l4.7 -4.7"/><path d="M153.35 305.95l4.7 4.7m-4.7 0l4.7 -4.7"/><path d="M217.05 182.95l4.7 4.7m-4.7 0l4.7 -4.7"/><path d="M232.65 182.95l4.7 4.7m-4.7 0l4.7 -4.7"/><path d="M209.45 229.95l4.7 4.7m-4.7 0l4.7 -4.7"/><path d="M229.15 229.95l4.7 4.7m-4.7 0l4.7 -4.7"/><path d="M280.45 229.95l4.7 4.7m-4.7 0l4.7 -4.7"/><path d="M292.05 229.95l4.7 4.7m-4.7 0l4.7 -4.7"/><path d="M148.05 54.95l4.7 4.7m-4.7 0l4.7 -4.7"/><path d="M153.25 127.65l4.7 4.7m-4.7 0l4.7 -4.7"/><path d="M153.25 338.25l4.7 4.7m-4.7 0l4.7 -4.7"/><path d="M174.25 139.15l4.7 4.7m-4.7 0l4.7 -4.7"/><path d="M303.15 146.75l4.7 4.7m-4.7 0l4.7 -4.7"/><path d="M372.15 181.95l4.7 4.7m-4.7 0l4.7 -4.7"/><path d="M389.25 139.15l4.7 4.7m-4.7 0l4.7 -4.7"/><path d="M375.15 177.95l4.7 4.7m-4.7 0l4.7 -4.7"/><path d="M165.15 187.65l4.7 4.7m-4.7 0l4.7 -4.7"/><path d="M177.75 186.15l4.7 4.7m-4.7 0l4.7 -4.7"/><path d="M210.95 186.15l4.7 4.7m-4.7 0l4.7 -4.7"/><path d="M234.15 188.15l4.7 4.7m-4.7 0l4.7 -4.7"/><path d="M245.75 186.15l4.7 4.7m-4.7 0l4.7 -4.7"/><path d="M260.85 186.15l4.7 4.7m-4.7 0l4.7 -4.7"/><path d="M268.85 186.15l4.7 4.7m-4.7 0l4.7 -4.7"/><path d="M288.05 186.15l4.7 4.7m-4.7 0l4.7 -4.7"/><path d="M303.15 191.15l4.7 4.7m-4.7 0l4.7 -4.7"/><path d="M303.15 207.85l4.7 4.7m-4.7 0l4.7 -4.7"/><path d="M303.15 218.35l4.7 4.7m-4.7 0l4.7 -4.7"/><path d="M306.15 187.15l4.7 4.7m-4.7 0l4.7 -4.7"/><path d="M321.25 186.15l4.7 4.7m-4.7 0l4.7 -4.7"/><path d="M331.85 186.15l4.7 4.7m-4.7 0l4.7 -4.7"/><path d="M306.15 201.25l4.7 4.7m-4.7 0l4.7 -4.7"/><path d="M372.15 199.25l4.7 4.7m-4.7 0l4.7 -4.7"/><path d="M377.65 186.15l4.7 4.7m-4.7 0l4.7 -4.7"/><path d="M224.05 233.15l4.7 4.7m-4.7 0l4.7 -4.7"/><path d="M303.15 268.45l4.7 4.7m-4.7 0l4.7 -4.7"/><path d="M333.85 233.15l4.7 4.7m-4.7 0l4.7 -4.7"/><path d="M306.15 243.55l4.7 4.7m-4.7 0l4.7 -4.7"/><path d="M375.15 256.85l4.7 4.7m-4.7 0l4.7 -4.7"/><path d="M99.15 218.35l4.7 4.7m-4.7 0l4.7 -4.7"/><path d="M99.15 227.95l4.7 4.7m-4.7 0l4.7 -4.7"/><path d="M99.15 236.65l4.7 4.7m-4.7 0l4.7 -4.7"/><path d="M210.45 135.35l4.7 4.7m-4.7 0l4.7 -4.7"/><path d="M289.75 135.35l4.7 4.7m-4.7 0l4.7 -4.7"/><path d="M292.75 135.35l4.7 4.7m-4.7 0l4.7 -4.7"/><path d="M333.35 135.35l4.7 4.7m-4.7 0l4.7 -4.7"/><path d="M349.45 135.35l4.7 4.7m-4.7 0l4.7 -4.7"/><path d="M165.35 245.75l4.7 4.7m-4.7 0l4.7 -4.7"/><path d="M225.85 279.95l4.7 4.7m-4.7 0l4.7 -4.7"/><path d="M364.05 185.85l4.7 4.7m-4.7 0l4.7 -4.7"/><path d="M149.05 183.45l4.7 4.7m-4.7 0l4.7 -4.7"/><path d="M369.15 183.45l4.7 4.7m-4.7 0l4.7 -4.7"/><path d="M176.75 230.45l4.7 4.7m-4.7 0l4.7 -4.7"/><path d="M303.55 221.35l4.7 4.7m-4.7 0l4.7 -4.7"/><path d="M165.65 147.25l4.7 4.7m-4.7 0l4.7 -4.7"/><path d="M210.95 138.65l4.7 4.7m-4.7 0l4.7 -4.7"/><path d="M167.65 166.85l4.7 4.7m-4.7 0l4.7 -4.7"/><path d="M253.75 185.65l4.7 4.7m-4.7 0l4.7 -4.7"/><path d="M301.15 185.65l4.7 4.7m-4.7 0l4.7 -4.7"/><path d="M381.25 185.65l4.7 4.7m-4.7 0l4.7 -4.7"/><path d="M167.65 239.25l4.7 4.7m-4.7 0l4.7 -4.7"/><path d="M236.65 237.15l4.7 4.7m-4.7 0l4.7 -4.7"/><path d="M300.15 232.65l4.7 4.7m-4.7 0l4.7 -4.7"/><path d="M325.85 232.65l4.7 4.7m-4.7 0l4.7 -4.7"/><path d="M354.65 14.15l4.7 4.7m-4.7 0l4.7 -4.7"/><path d="M79.95 209.45l4.7 4.7m-4.7 0l4.7 -4.7"/><path d="M325.05 136.05l4.7 4.7m-4.7 0l4.7 -4.7"/><path d="M340.45 136.05l4.7 4.7m-4.7 0l4.7 -4.7"/><path d="M235.15 181.95l4.7 4.7m-4.7 0l4.7 -4.7"/><path d="M304.15 158.85l4.7 4.7m-4.7 0l4.7 -4.7"/><path d="M149.15 303.55l4.7 4.7m-4.7 0l4.7 -4.7"/><path d="M252.15 326.95l4.7 4.7m-4.7 0l4.7 -4.7"/><path d="M358.15 319.05l4.7 4.7m-4.7 0l4.7 -4.7"/><path d="M241.35 68.85l4.7 4.7m-4.7 0l4.7 -4.7"/><path d="M355.55 82.65l4.7 4.7m-4.7 0l4.7 -4.7"/><path d="M203.95 231.65l4.7 4.7m-4.7 0l4.7 -4.7"/><path d="M149.85 60.85l4.7 4.7m-4.7 0l4.7 -4.7"/><path d="M149.85 307.75l4.7 4.7m-4.7 0l4.7 -4.7"/><path d="M78.45 137.45l4.7 4.7m-4.7 0l4.7 -4.7"/><path d="M81.95 137.45l4.7 4.7m-4.7 0l4.7 -4.7"/><path d="M283.25 67.75l4.7 4.7m-4.7 0l4.7 -4.7"/><path d="M311.95 67.75l4.7 4.7m-4.7 0l4.7 -4.7"/><path d="M340.85 67.75l4.7 4.7m-4.7 0l4.7 -4.7"/><path d="M344.95 67.75l4.7 4.7m-4.7 0l4.7 -4.7"/><path d="M296.25 68.35l4.7 4.7m-4.7 0l4.7 -4.7"/>
</g>
<line x1="60.9" y1="216.5" x2="453.6" y2="185.7" stroke="#ff0000" stroke-width="1"/>
<rect x="515.50" y="16.50" width="5.00" height="10.79" fill="#008000" stroke="#000" stroke-width="1"/>
<rect x="515.50" y="27.29" width="1.80" height="10.79" fill="#008000" stroke="#000" stroke-width="1"/>
<rect x="515.50" y="38.09" width="5.00" height="10.79" fill="#008000" stroke="#000" stroke-width="1"/>
<rect x="515.50" y="48.88" width="4.70" height="10.79" fill="#008000" stroke="#000" stroke-width="1"/>
<rect x="515.50" y="59.68" width="7.60" height="10.79" fill="#008000" stroke="#000" stroke-width="1"/>
<rect x="515.50" y="70.47" width="2.90" height="10.79" fill="#008000" stroke="#000" stroke-width="1"/>
<rect x="515.50" y="81.27" width="8.90" height="10.79" fill="#008000" stroke="#000" stroke-width="1"/>
<rect x="515.50" y="92.06" width="7.40" height="10.79" fill="#008000" stroke="#000" stroke-width="1"/>
<rect x="515.50" y="102.86" width="6.70" height="10.79" fill="#008000" stroke="#000" stroke-width="1"/>
<rect x="515.50" y="113.65" width="8.90" height="10.79" fill="#008000" stroke="#000" stroke-width="1"/>
<rect x="515.50" y="124.45" width="22.30" height="10.79" fill="#008000" stroke="#000" stroke-width="1"/>
<rect x="515.50" y="135.24" width="16.70" height="10.79" fill="#008000" stroke="#000" stroke-width="1"/>
<rect x="515.50" y="146.04" width="29.20" height="10.79" fill="#008000" stroke="#000" stroke-width="1"/>
<rect x="515.50" y="156.83" width="46.20" height="10.79" fill="#008000" stroke="#000" stroke-width="1"/>
<rect x="515.50" y="167.63" width="29.20" height="10.79" fill="#008000" stroke="#000" stroke-width="1"/>
<rect x="515.50" y="178.42" width="49.00" height="10.79" fill="#008000" stroke="#000" stroke-width="1"/>
<rect x="515.50" y="189.21" width="113.20" height="10.79" fill="#008000" stroke="#000" stroke-width="1"/>
<rect x="515.50" y="200.01" width="60.10" height="10.79" fill="#008000" stroke="#000" stroke-width="1"/>
<rect x="515.50" y="210.80" width="53.10" height="10.79" fill="#008000" stroke="#000" stroke-width="1"/>
<rect x="515.50" y="221.60" width="51.00" height="10.79" fill="#008000" stroke="#000" stroke-width="1"/>
<rect x="515.50" y="232.39" width="23.90" height="10.79" fill="#008000" stroke="#000" stroke-width="1"/>
<rect x="515.50" y="243.19" width="16.20" height="10.79" fill="#008000" stroke="#000" stroke-width="1"/>
<rect x="515.50" y="253.98" width="23.90" height="10.79" fill="#008000" stroke="#000" stroke-width="1"/>
<rect x="515.50" y="264.78" width="13.70" height="10.79" fill="#008000" stroke="#000" stroke-width="1"/>
<rect x="515.50" y="275.57" width="10.40" height="10.79" fill="#008000" stroke="#000" stroke-width="1"/>
<rect x="515.50" y="286.37" width="12.00" height="10.79" fill="#008000" stroke="#000" stroke-width="1"/>
<rect x="515.50" y="297.16" width="17.40" height="10.79" fill="#008000" stroke="#000" stroke-width="1"/>
<rect x="515.50" y="307.96" width="7.20" height="10.79" fill="#008000" stroke="#000" stroke-width="1"/>
<rect x="515.50" y="318.75" width="24.50" height="10.79" fill="#008000" stroke="#000" stroke-width="1"/>
<rect x="515.50" y="329.55" width="10.40" height="10.79" fill="#008000" stroke="#000" stroke-width="1"/>
<path d="M50.7 16.50h4M460.6 16.50h-4M515.5 16.50h4M652.0 16.50h-4M50.7 97.46h4M460.6 97.46h-4M515.5 97.46h4M652.0 97.46h-4M50.7 178.42h4M460.6 178.42h-4M515.5 178.42h4M652.0 178.42h-4M50.7 259.38h4M460.6 259.38h-4M515.5 259.38h4M652.0 259.38h-4M50.7 340.34h4M460.6 340.34h-4M515.5 340.34h4M652.0 340.34h-4M50.7 421.30h4M460.6 421.30h-4M515.5 421.30h4M652.0 421.30h-4M50.70 421.3v-4M50.70 0.3v4M101.94 421.3v-4M101.94 0.3v4M153.18 421.3v-4M153.18 0.3v4M204.41 421.3v-4M204.41 0.3v4M255.65 421.3v-4M255.65 0.3v4M306.89 421.3v-4M306.89 0.3v4M358.13 421.3v-4M358.13 0.3v4M409.36 421.3v-4M409.36 0.3v4M460.60 421.3v-4M460.60 0.3v4M515.50 421.3v-4M515.50 0.3v4M542.80 421.3v-4M542.80 0.3v4M570.10 421.3v-4M570.10 0.3v4M597.40 421.3v-4M597.40 0.3v4M624.70 421.3v-4M624.70 0.3v4M652.00 421.3v-4M652.00 0.3v4" stroke="#000" stroke-width="0.5" fill="none"/>
<rect x="50.7" y="0.3" width="409.90" height="421.00" fill="none" stroke="#000" stroke-width="1"/>
<rect x="515.5" y="0.3" width="136.50" height="421.00" fill="none" stroke="#000" stroke-width="1"/>
<g id="txt" filter="url(#gs)" stroke="#000" stroke-width="0.22">
<text transform="translate(27.20,20.10) scale(1.1351,1)" x="-0.00 6.87 10.31" y="0" font-size="12.36">1.0</text>
<text transform="translate(656.00,20.10) scale(1.1351,1)" x="-0.00 6.87 10.31" y="0" font-size="12.36">1.0</text>
<text transform="translate(27.20,101.06) scale(1.1351,1)" x="-0.00 6.87 10.31" y="0" font-size="12.36">0.5</text>
<text transform="translate(656.00,101.06) scale(1.1351,1)" x="-0.00 6.87 10.31" y="0" font-size="12.36">0.5</text>
<text transform="translate(27.20,182.02) scale(1.1351,1)" x="-0.00 6.87 10.31" y="0" font-size="12.36">0.0</text>
<text transform="translate(656.00,182.02) scale(1.1351,1)" x="-0.00 6.87 10.31" y="0" font-size="12.36">0.0</text>
<text transform="translate(16.92,262.98) scale(1.2205,1)" x="0.60 8.18 14.69 17.77" y="0" font-size="12.36">−0.5</text>
<text transform="translate(656.00,262.98) scale(1.2205,1)" x="0.60 8.18 14.69 17.77" y="0" font-size="12.36">−0.5</text>
<text transform="translate(16.92,343.94) scale(1.2205,1)" x="0.60 8.18 14.69 17.77" y="0" font-size="12.36">−1.0</text>
<text transform="translate(656.00,343.94) scale(1.2205,1)" x="0.60 8.18 14.69 17.77" y="0" font-size="12.36">−1.0</text>
<text transform="translate(16.92,424.90) scale(1.2205,1)" x="0.60 8.18 14.69 17.77" y="0" font-size="12.36">−1.5</text>
<text transform="translate(656.00,424.90) scale(1.2205,1)" x="0.60 8.18 14.69 17.77" y="0" font-size="12.36">−1.5</text>
<text transform="translate(40.95,434.60) scale(1.1351,1)" x="-0.00 6.87 10.31" y="0" font-size="12.36">0.1</text>
<text transform="translate(92.19,434.60) scale(1.1351,1)" x="-0.00 6.87 10.31" y="0" font-size="12.36">0.2</text>
<text transform="translate(143.42,434.60) scale(1.1351,1)" x="-0.00 6.87 10.31" y="0" font-size="12.36">0.3</text>
<text transform="translate(194.66,434.60) scale(1.1351,1)" x="-0.00 6.87 10.31" y="0" font-size="12.36">0.4</text>
<text transform="translate(245.90,434.60) scale(1.1351,1)" x="-0.00 6.87 10.31" y="0" font-size="12.36">0.5</text>
<text transform="translate(297.14,434.60) scale(1.1351,1)" x="-0.00 6.87 10.31" y="0" font-size="12.36">0.6</text>
<text transform="translate(348.37,434.60) scale(1.1351,1)" x="-0.00 6.87 10.31" y="0" font-size="12.36">0.7</text>
<text transform="translate(399.61,434.60) scale(1.1351,1)" x="-0.00 6.87 10.31" y="0" font-size="12.36">0.8</text>
<text transform="translate(450.85,434.60) scale(1.1351,1)" x="-0.00 6.87 10.31" y="0" font-size="12.36">0.9</text>
<text transform="translate(511.60,434.60) scale(1.1351,1)" x="0.00" y="0" font-size="12.36">0</text>
<text transform="translate(535.00,434.60) scale(1.1351,1)" x="0.00 6.87" y="0" font-size="12.36">50</text>
<text transform="translate(558.40,434.60) scale(1.1351,1)" x="-0.00 6.87 13.75" y="0" font-size="12.36">100</text>
<text transform="translate(585.70,434.60) scale(1.1351,1)" x="-0.00 6.87 13.75" y="0" font-size="12.36">150</text>
<text transform="translate(613.00,434.60) scale(1.1351,1)" x="-0.00 6.87 13.75" y="0" font-size="12.36">200</text>
<text transform="translate(640.30,434.60) scale(1.1351,1)" x="-0.00 6.87 13.75" y="0" font-size="12.36">250</text>
<text transform="translate(213.64,451.70) scale(1.0824,1)" x="-0.42 8.98 11.96 19.02 26.09 33.20 36.23 39.22 46.80 52.86 59.10 66.27 70.71" y="0" font-size="12.36">Global Sscore</text>
<text transform="translate(538.00,451.50) scale(1.1548,1)" x="-0.37 8.28 10.80 17.03 20.95 25.29 28.07 34.81 41.98 45.88 48.54 55.15 61.93 65.14 71.98" y="0" font-size="12.36">Distribution of</text>
<text transform="translate(521.80,464.85) scale(1.1283,1)" x="0.01 7.08 11.27 17.95 24.17 26.79 32.85 35.62 42.39 49.28 52.74 59.76 62.84 66.67 70.21 77.16 81.36 88.15 94.93 100.91 107.44" y="0" font-size="12.36">precision differences</text>
<text transform="translate(8.80,314.80) rotate(-90) scale(1.1200,1)" x="-0.42 9.36 16.18 23.03 29.98 32.90 36.40 43.50 47.74 54.47 60.71 63.37 69.46 72.27 79.09 86.02 89.39 93.45 96.54 105.02 112.24 116.25 119.29 125.55 132.38 135.88 142.98 147.22 153.95 160.20 162.85 168.95 171.75 178.57" y="0" font-size="12.36">Model precision - Native precision</text>
</g>
<rect x="57.9" y="346.4" width="393.9" height="67.5" fill="#fff" stroke="#000" stroke-width="1"/>
<line x1="68.0" y1="357.9" x2="89.2" y2="357.9" stroke="#ff0000" stroke-width="1"/>
<g fill="#0000ff" stroke="#000" stroke-width="1.25"><circle cx="68.3" cy="380.4" r="2.2"/><circle cx="78.5" cy="379.2" r="2.2"/><circle cx="88.8" cy="380.8" r="2.2"/></g>
<g stroke="#008000" stroke-width="1.25" fill="none"><path d="M65.95 399.25l4.7 4.7m-4.7 0l4.7 -4.7"/><path d="M76.15 397.95l4.7 4.7m-4.7 0l4.7 -4.7"/><path d="M86.45 399.75l4.7 4.7m-4.7 0l4.7 -4.7"/></g>
<g id="ltxt" filter="url(#gs)" stroke="#000" stroke-width="0.25">
<text transform="translate(104.70,362.80) scale(1.1173,1)" x="-0.78 9.18 13.53 21.04 29.39 32.91 41.14 49.47 53.79 58.01 66.35 70.57 78.95 87.33" y="0" font-size="14.83">R value: 0.100</text>
<text transform="translate(104.70,384.10) scale(1.1202,1)" x="-0.12 3.91 12.72 17.27 25.67 29.85 38.68 46.89 55.21 59.07 66.11 73.32 81.69 86.78 94.98 99.14 109.76 118.14 123.02 130.07 138.26 142.93 147.60 155.79 163.98 172.29 176.48 184.67 193.34 198.15 201.80 209.31 217.51 221.68 225.32 237.08 245.15 253.34 261.78 266.08 270.13 275.03 283.36 287.56 295.92" y="0" font-size="14.83">InterPep score worse than native, Mean: -0.26</text>
<text transform="translate(104.70,405.10) scale(1.1303,1)" x="-0.14 3.84 12.58 17.08 25.41 29.54 38.29 46.43 54.70 58.51 65.48 72.63 80.94 85.97 94.11 98.24 106.38 115.00 120.11 124.60 132.94 138.09 142.72 147.33 155.45 163.56 171.82 175.95 184.07 192.67 197.45 201.05 208.49 216.63 220.77 224.34 236.01 244.01 252.12 260.50 264.77 268.78 273.61 281.89 286.04 294.32" y="0" font-size="14.83">InterPep score better than native, Mean: -0.12</text>
</g>
</svg>
</body></html>
